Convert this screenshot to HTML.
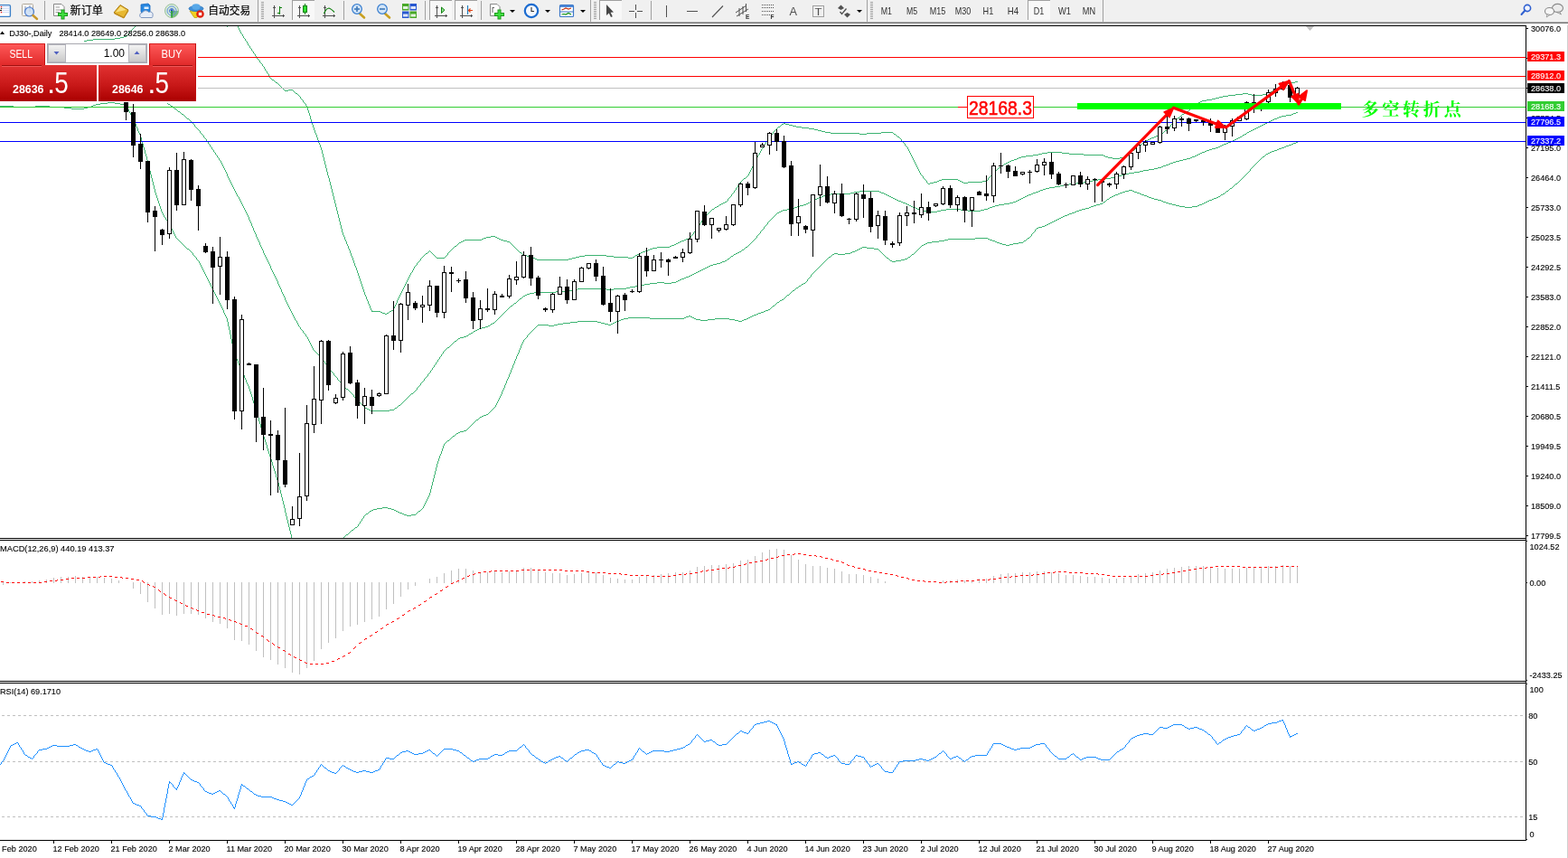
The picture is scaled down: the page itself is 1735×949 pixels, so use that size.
<!DOCTYPE html>
<html lang="zh">
<head>
<meta charset="utf-8">
<title>DJ30-,Daily</title>
<style>
html,body{margin:0;padding:0;background:#fff;}
body{width:1735px;height:949px;overflow:hidden;position:relative;font-family:'Liberation Sans','Noto Sans CJK SC',sans-serif;}
svg{display:block}
svg text{white-space:pre}
</style>
</head>
<body>
<svg width="1735" height="949" viewBox="0 0 1735 949" style="position:absolute;left:0;top:0" font-family="'Liberation Sans','Noto Sans CJK SC',sans-serif">
<defs>
<clipPath id="cm"><rect x="0" y="29" width="1688" height="566"/></clipPath>
<clipPath id="cd"><rect x="0" y="598" width="1688" height="155"/></clipPath>
<clipPath id="cr"><rect x="0" y="756" width="1688" height="173"/></clipPath>
<linearGradient id="gb" x1="0" y1="0" x2="0" y2="1"><stop offset="0" stop-color="#ff5a5a"/><stop offset="1" stop-color="#e02828"/></linearGradient>
<linearGradient id="gp" x1="0" y1="0" x2="0" y2="1"><stop offset="0" stop-color="#e23232"/><stop offset="0.55" stop-color="#c81818"/><stop offset="1" stop-color="#aa0000"/></linearGradient>
<linearGradient id="gs" x1="0" y1="0" x2="0" y2="1"><stop offset="0" stop-color="#f4f4f4"/><stop offset="1" stop-color="#c8c8c8"/></linearGradient>
</defs>
<rect x="0" y="0" width="1735" height="949" fill="#fff" />
<g clip-path="url(#cm)" shape-rendering="crispEdges">
<path d="M150 27.5h1M149 28.5h1M149 29.5h1M148 30.5h1M147 31.5h1M146 32.5h1M145 33.5h1M144 34.5h1M143 35.5h1M143 36.5h1M142 37.5h1M141 38.5h1M140 39.5h1M137 40.5h3M133 41.5h4M127 42.5h6M103 43.5h24M96 44.5h7M93 45.5h3" fill="none" stroke="#3cb371" stroke-width="1" shape-rendering="crispEdges"/>
<path d="M259 22.5h1M258 23.5h1M260 23.5h1M257 24.5h1M260 24.5h1M255 25.5h2M261 25.5h1M250 26.5h1M254 26.5h1M261 26.5h1M250 27.5h1M253 27.5h1M262 27.5h1M251 28.5h2M262 28.5h1M251 29.5h1M263 29.5h1M263 30.5h1M264 31.5h1M264 32.5h1M265 33.5h1M265 34.5h1M266 35.5h1M266 36.5h1M267 37.5h1M268 38.5h1M268 39.5h1M269 40.5h1M269 41.5h1M270 42.5h1M271 43.5h1M271 44.5h1M272 45.5h1M273 46.5h1M273 47.5h1M274 48.5h1M274 49.5h1M275 50.5h1M276 51.5h1M276 52.5h1M277 53.5h1M278 54.5h1M278 55.5h1M279 56.5h1M280 57.5h1M280 58.5h1M281 59.5h1M282 60.5h1M282 61.5h1M283 62.5h1M284 63.5h1M284 64.5h1M285 65.5h1M286 66.5h1M287 67.5h1M287 68.5h1M288 69.5h1M289 70.5h1M290 71.5h1M290 72.5h1M291 73.5h1M292 74.5h1M292 75.5h1M293 76.5h1M293 77.5h1M294 78.5h1M295 79.5h1M295 80.5h1M296 81.5h1M297 82.5h1M297 83.5h1M298 84.5h1M298 85.5h1M299 86.5h1M300 87.5h1M301 88.5h2M303 89.5h1M304 90.5h1M1433 90.5h3M305 91.5h2M1429 91.5h4M307 92.5h1M1425 92.5h4M308 93.5h1M1421 93.5h4M309 94.5h1M1419 94.5h2M310 95.5h1M1417 95.5h2M311 96.5h1M1415 96.5h2M312 97.5h1M1414 97.5h1M313 98.5h1M1412 98.5h2M314 99.5h1M319 99.5h5M1410 99.5h2M315 100.5h4M324 100.5h1M1408 100.5h2M325 101.5h1M1406 101.5h2M326 102.5h1M1404 102.5h2M327 103.5h2M1375 103.5h6M1401 103.5h3M329 104.5h1M1367 104.5h8M1381 104.5h4M1397 104.5h4M330 105.5h1M1359 105.5h8M1385 105.5h12M331 106.5h1M1353 106.5h6M332 107.5h1M1349 107.5h4M332 108.5h1M1345 108.5h4M333 109.5h1M1341 109.5h4M334 110.5h1M1335 110.5h6M335 111.5h1M1330 111.5h5M335 112.5h1M1328 112.5h2M336 113.5h1M1326 113.5h2M337 114.5h1M1324 114.5h2M338 115.5h1M1323 115.5h1M338 116.5h1M1322 116.5h1M339 117.5h1M1321 117.5h1M339 118.5h1M1319 118.5h2M340 119.5h1M1318 119.5h1M340 120.5h1M1317 120.5h1M340 121.5h1M1316 121.5h1M341 122.5h1M1315 122.5h1M341 123.5h1M1313 123.5h2M341 124.5h1M1311 124.5h2M342 125.5h1M1310 125.5h1M342 126.5h1M1308 126.5h2M342 127.5h1M1307 127.5h1M343 128.5h1M1306 128.5h1M343 129.5h1M1305 129.5h1M343 130.5h1M1303 130.5h2M343 131.5h1M1302 131.5h1M344 132.5h1M1301 132.5h1M344 133.5h1M1300 133.5h1M344 134.5h1M1299 134.5h1M345 135.5h1M1298 135.5h1M345 136.5h1M867 136.5h2M1297 136.5h1M345 137.5h1M865 137.5h2M869 137.5h4M1296 137.5h1M346 138.5h1M864 138.5h1M873 138.5h4M1295 138.5h1M346 139.5h1M863 139.5h1M877 139.5h4M1295 139.5h1M346 140.5h1M861 140.5h2M881 140.5h6M1294 140.5h1M347 141.5h1M860 141.5h1M887 141.5h8M1293 141.5h1M347 142.5h1M859 142.5h1M895 142.5h6M1292 142.5h1M347 143.5h1M858 143.5h1M901 143.5h4M1291 143.5h1M348 144.5h1M857 144.5h1M905 144.5h4M1289 144.5h2M348 145.5h1M856 145.5h1M909 145.5h4M1288 145.5h1M348 146.5h1M855 146.5h1M913 146.5h6M975 146.5h13M1287 146.5h1M349 147.5h1M855 147.5h1M919 147.5h32M959 147.5h16M988 147.5h1M1285 147.5h2M349 148.5h1M854 148.5h1M951 148.5h8M989 148.5h2M1284 148.5h1M350 149.5h1M853 149.5h1M991 149.5h1M1282 149.5h2M350 150.5h1M852 150.5h1M992 150.5h1M1279 150.5h3M350 151.5h1M851 151.5h1M993 151.5h2M1277 151.5h2M351 152.5h1M850 152.5h1M995 152.5h1M1274 152.5h3M351 153.5h1M850 153.5h1M996 153.5h1M1272 153.5h2M351 154.5h1M849 154.5h1M997 154.5h1M1270 154.5h2M352 155.5h1M849 155.5h1M997 155.5h1M1268 155.5h2M352 156.5h1M848 156.5h1M998 156.5h1M1267 156.5h1M352 157.5h1M847 157.5h1M999 157.5h1M1265 157.5h2M353 158.5h1M847 158.5h1M1000 158.5h1M1264 158.5h1M353 159.5h1M846 159.5h1M1001 159.5h1M1263 159.5h1M354 160.5h1M845 160.5h1M1001 160.5h1M1261 160.5h2M354 161.5h1M845 161.5h1M1002 161.5h1M1260 161.5h1M354 162.5h1M844 162.5h1M1003 162.5h1M1259 162.5h1M355 163.5h1M844 163.5h1M1004 163.5h1M1257 163.5h2M355 164.5h1M843 164.5h1M1004 164.5h1M1256 164.5h1M355 165.5h1M842 165.5h1M1005 165.5h1M1255 165.5h1M356 166.5h1M842 166.5h1M1005 166.5h1M1253 166.5h2M356 167.5h1M841 167.5h1M1006 167.5h1M1252 167.5h1M356 168.5h1M841 168.5h1M1006 168.5h1M1159 168.5h16M1251 168.5h1M356 169.5h1M840 169.5h1M1007 169.5h1M1153 169.5h6M1175 169.5h8M1249 169.5h2M357 170.5h1M840 170.5h1M1007 170.5h1M1149 170.5h4M1183 170.5h16M1248 170.5h1M357 171.5h1M839 171.5h1M1008 171.5h1M1143 171.5h6M1199 171.5h22M1247 171.5h1M357 172.5h1M838 172.5h1M1008 172.5h1M1135 172.5h8M1221 172.5h2M1245 172.5h2M357 173.5h1M838 173.5h1M1009 173.5h1M1130 173.5h5M1223 173.5h3M1244 173.5h1M358 174.5h1M837 174.5h1M1009 174.5h1M1127 174.5h3M1226 174.5h5M1239 174.5h5M358 175.5h1M837 175.5h1M1010 175.5h1M1125 175.5h2M1231 175.5h8M358 176.5h1M836 176.5h1M1010 176.5h1M1122 176.5h3M358 177.5h1M836 177.5h1M1011 177.5h1M1119 177.5h3M359 178.5h1M835 178.5h1M1011 178.5h1M1117 178.5h2M359 179.5h1M835 179.5h1M1012 179.5h1M1115 179.5h2M359 180.5h1M834 180.5h1M1012 180.5h1M1113 180.5h2M359 181.5h1M834 181.5h1M1013 181.5h1M1111 181.5h2M360 182.5h1M833 182.5h1M1013 182.5h1M1110 182.5h1M360 183.5h1M833 183.5h1M1014 183.5h1M1108 183.5h2M360 184.5h1M832 184.5h1M1014 184.5h1M1107 184.5h1M360 185.5h1M832 185.5h1M1015 185.5h1M1105 185.5h2M361 186.5h1M831 186.5h1M1015 186.5h1M1104 186.5h1M361 187.5h1M831 187.5h1M1016 187.5h1M1103 187.5h1M361 188.5h1M830 188.5h1M1016 188.5h1M1101 188.5h2M361 189.5h1M830 189.5h1M1017 189.5h1M1100 189.5h1M362 190.5h1M829 190.5h1M1017 190.5h1M1099 190.5h1M362 191.5h1M829 191.5h1M1018 191.5h1M1098 191.5h1M362 192.5h1M828 192.5h1M1018 192.5h1M1097 192.5h1M362 193.5h1M828 193.5h1M1019 193.5h1M1097 193.5h1M363 194.5h1M827 194.5h1M1020 194.5h1M1096 194.5h1M363 195.5h1M826 195.5h1M1021 195.5h1M1095 195.5h1M363 196.5h1M825 196.5h1M1021 196.5h1M1094 196.5h1M364 197.5h1M823 197.5h2M1022 197.5h1M1093 197.5h1M364 198.5h1M822 198.5h1M1023 198.5h1M1042 198.5h18M1093 198.5h1M364 199.5h1M821 199.5h1M1024 199.5h1M1039 199.5h3M1060 199.5h2M1092 199.5h1M364 200.5h1M820 200.5h1M1025 200.5h1M1037 200.5h2M1062 200.5h2M1087 200.5h5M365 201.5h1M819 201.5h1M1025 201.5h1M1033 201.5h4M1064 201.5h2M1071 201.5h16M365 202.5h1M818 202.5h1M1026 202.5h1M1029 202.5h4M1066 202.5h5M365 203.5h1M818 203.5h1M1027 203.5h2M365 204.5h1M817 204.5h1M366 205.5h1M816 205.5h1M366 206.5h1M816 206.5h1M366 207.5h1M815 207.5h1M366 208.5h1M814 208.5h1M367 209.5h1M814 209.5h1M367 210.5h1M813 210.5h1M367 211.5h1M812 211.5h1M367 212.5h1M812 212.5h1M368 213.5h1M811 213.5h1M368 214.5h1M810 214.5h1M368 215.5h1M809 215.5h1M368 216.5h1M809 216.5h1M369 217.5h1M808 217.5h1M369 218.5h1M807 218.5h1M369 219.5h1M806 219.5h1M369 220.5h1M805 220.5h1M370 221.5h1M805 221.5h1M370 222.5h1M804 222.5h1M370 223.5h1M802 223.5h2M370 224.5h1M800 224.5h2M371 225.5h1M798 225.5h2M371 226.5h1M796 226.5h2M371 227.5h1M795 227.5h1M371 228.5h1M793 228.5h2M372 229.5h1M791 229.5h2M372 230.5h1M790 230.5h1M372 231.5h1M788 231.5h2M372 232.5h1M787 232.5h1M373 233.5h1M786 233.5h1M373 234.5h1M785 234.5h1M373 235.5h1M784 235.5h1M373 236.5h1M783 236.5h1M374 237.5h1M782 237.5h1M374 238.5h1M781 238.5h1M374 239.5h1M780 239.5h1M374 240.5h1M779 240.5h1M375 241.5h1M778 241.5h1M375 242.5h1M778 242.5h1M375 243.5h1M777 243.5h1M375 244.5h1M776 244.5h1M376 245.5h1M776 245.5h1M376 246.5h1M775 246.5h1M376 247.5h1M774 247.5h1M376 248.5h1M774 248.5h1M377 249.5h1M773 249.5h1M377 250.5h1M772 250.5h1M377 251.5h1M772 251.5h1M377 252.5h1M771 252.5h1M378 253.5h1M770 253.5h1M378 254.5h1M770 254.5h1M378 255.5h1M769 255.5h1M378 256.5h1M768 256.5h1M379 257.5h1M767 257.5h1M379 258.5h1M767 258.5h1M379 259.5h1M766 259.5h1M380 260.5h1M765 260.5h1M380 261.5h1M543 261.5h5M764 261.5h1M381 262.5h1M538 262.5h5M548 262.5h2M764 262.5h1M381 263.5h1M535 263.5h3M550 263.5h2M762 263.5h2M381 264.5h1M533 264.5h2M552 264.5h2M759 264.5h3M382 265.5h1M514 265.5h19M554 265.5h3M757 265.5h2M382 266.5h1M512 266.5h2M557 266.5h4M754 266.5h3M383 267.5h1M510 267.5h2M561 267.5h3M752 267.5h2M383 268.5h1M508 268.5h2M564 268.5h1M750 268.5h2M383 269.5h1M507 269.5h1M565 269.5h1M748 269.5h2M384 270.5h1M506 270.5h1M566 270.5h1M746 270.5h2M384 271.5h1M505 271.5h1M567 271.5h1M743 271.5h3M385 272.5h1M503 272.5h2M568 272.5h1M741 272.5h2M385 273.5h1M502 273.5h1M569 273.5h1M727 273.5h14M385 274.5h1M501 274.5h1M570 274.5h1M722 274.5h5M386 275.5h1M500 275.5h1M571 275.5h1M719 275.5h3M386 276.5h1M499 276.5h1M572 276.5h1M717 276.5h2M387 277.5h1M475 277.5h1M498 277.5h1M573 277.5h1M714 277.5h3M387 278.5h1M474 278.5h1M476 278.5h1M497 278.5h1M574 278.5h1M711 278.5h3M387 279.5h1M473 279.5h1M477 279.5h1M496 279.5h1M575 279.5h2M709 279.5h2M388 280.5h1M471 280.5h2M478 280.5h1M495 280.5h1M577 280.5h1M707 280.5h2M388 281.5h1M470 281.5h1M479 281.5h1M495 281.5h1M578 281.5h1M705 281.5h2M388 282.5h1M469 282.5h1M480 282.5h1M494 282.5h1M579 282.5h4M647 282.5h24M703 282.5h2M389 283.5h1M468 283.5h1M481 283.5h1M493 283.5h1M583 283.5h5M641 283.5h6M671 283.5h8M702 283.5h1M389 284.5h1M467 284.5h1M482 284.5h1M492 284.5h1M588 284.5h2M637 284.5h4M679 284.5h16M700 284.5h2M390 285.5h1M466 285.5h1M483 285.5h9M590 285.5h2M633 285.5h4M695 285.5h5M390 286.5h1M465 286.5h1M592 286.5h2M629 286.5h4M390 287.5h1M465 287.5h1M594 287.5h35M391 288.5h1M464 288.5h1M391 289.5h1M463 289.5h1M391 290.5h1M462 290.5h1M392 291.5h1M461 291.5h1M392 292.5h1M461 292.5h1M392 293.5h1M460 293.5h1M393 294.5h1M459 294.5h1M393 295.5h1M458 295.5h1M394 296.5h1M458 296.5h1M394 297.5h1M457 297.5h1M394 298.5h1M457 298.5h1M395 299.5h1M456 299.5h1M395 300.5h1M456 300.5h1M395 301.5h1M455 301.5h1M396 302.5h1M454 302.5h1M396 303.5h1M454 303.5h1M396 304.5h1M453 304.5h1M397 305.5h1M453 305.5h1M397 306.5h1M452 306.5h1M397 307.5h1M452 307.5h1M398 308.5h1M451 308.5h1M398 309.5h1M451 309.5h1M398 310.5h1M450 310.5h1M399 311.5h1M450 311.5h1M399 312.5h1M449 312.5h1M399 313.5h1M449 313.5h1M400 314.5h1M448 314.5h1M400 315.5h1M448 315.5h1M400 316.5h1M447 316.5h1M401 317.5h1M447 317.5h1M401 318.5h1M446 318.5h1M401 319.5h1M446 319.5h1M402 320.5h1M445 320.5h1M402 321.5h1M445 321.5h1M402 322.5h1M444 322.5h1M403 323.5h1M444 323.5h1M403 324.5h1M443 324.5h1M403 325.5h1M443 325.5h1M404 326.5h1M442 326.5h1M404 327.5h1M442 327.5h1M405 328.5h1M441 328.5h1M405 329.5h1M441 329.5h1M405 330.5h1M440 330.5h1M406 331.5h1M440 331.5h1M406 332.5h1M439 332.5h1M407 333.5h1M439 333.5h1M407 334.5h1M439 334.5h1M407 335.5h1M438 335.5h1M408 336.5h1M438 336.5h1M408 337.5h1M437 337.5h1M409 338.5h1M437 338.5h1M409 339.5h1M436 339.5h1M409 340.5h1M436 340.5h1M410 341.5h1M435 341.5h1M410 342.5h1M435 342.5h1M411 343.5h1M433 343.5h2M411 344.5h10M431 344.5h2M421 345.5h2M430 345.5h1M423 346.5h3M428 346.5h2M426 347.5h2" fill="none" stroke="#3cb371" stroke-width="1" shape-rendering="crispEdges"/>
<path d="M185 114.5h1M186 115.5h2M188 116.5h1M189 117.5h2M191 118.5h1M192 119.5h1M193 120.5h2M195 121.5h1M196 122.5h1M197 123.5h2M199 124.5h1M1434 124.5h2M200 125.5h1M1431 125.5h3M201 126.5h2M1429 126.5h2M203 127.5h1M1423 127.5h6M204 128.5h1M1418 128.5h5M205 129.5h1M1415 129.5h3M206 130.5h1M1413 130.5h2M207 131.5h2M1410 131.5h3M209 132.5h1M1408 132.5h2M210 133.5h1M1406 133.5h2M211 134.5h1M1404 134.5h2M212 135.5h1M1402 135.5h2M213 136.5h1M1400 136.5h2M214 137.5h1M1398 137.5h2M215 138.5h1M1396 138.5h2M215 139.5h1M1394 139.5h2M216 140.5h1M1392 140.5h2M217 141.5h1M1390 141.5h2M218 142.5h1M1388 142.5h2M219 143.5h1M1386 143.5h2M220 144.5h1M1384 144.5h2M221 145.5h1M1382 145.5h2M221 146.5h1M1380 146.5h2M222 147.5h1M1379 147.5h1M223 148.5h1M1377 148.5h2M224 149.5h1M1375 149.5h2M225 150.5h1M1374 150.5h1M225 151.5h1M1372 151.5h2M226 152.5h1M1370 152.5h2M227 153.5h1M1368 153.5h2M228 154.5h1M1366 154.5h2M228 155.5h1M1364 155.5h2M229 156.5h1M1362 156.5h2M230 157.5h1M1359 157.5h3M230 158.5h1M1357 158.5h2M231 159.5h1M1354 159.5h3M232 160.5h1M1352 160.5h2M232 161.5h1M1350 161.5h2M233 162.5h1M1348 162.5h2M234 163.5h1M1345 163.5h3M234 164.5h1M1341 164.5h4M235 165.5h1M1338 165.5h3M236 166.5h1M1335 166.5h3M236 167.5h1M1333 167.5h2M237 168.5h1M1330 168.5h3M238 169.5h1M1328 169.5h2M238 170.5h1M1326 170.5h2M239 171.5h1M1324 171.5h2M240 172.5h1M1322 172.5h2M240 173.5h1M1319 173.5h3M241 174.5h1M1317 174.5h2M242 175.5h1M1313 175.5h4M242 176.5h1M1309 176.5h4M243 177.5h1M1305 177.5h4M244 178.5h1M1301 178.5h4M244 179.5h1M1298 179.5h3M245 180.5h1M1295 180.5h3M245 181.5h1M1293 181.5h2M246 182.5h1M1290 182.5h3M246 183.5h1M1287 183.5h3M247 184.5h1M1285 184.5h2M247 185.5h1M1281 185.5h4M248 186.5h1M1277 186.5h4M248 187.5h1M1271 187.5h6M249 188.5h1M1265 188.5h6M249 189.5h1M1261 189.5h4M250 190.5h1M1255 190.5h6M250 191.5h1M1249 191.5h6M251 192.5h1M1245 192.5h4M251 193.5h1M1241 193.5h4M251 194.5h1M1237 194.5h4M252 195.5h1M1233 195.5h4M252 196.5h1M1229 196.5h4M253 197.5h1M1223 197.5h6M253 198.5h1M1215 198.5h8M254 199.5h1M1209 199.5h6M254 200.5h1M1205 200.5h4M255 201.5h1M1199 201.5h6M255 202.5h1M1191 202.5h8M256 203.5h1M1183 203.5h8M256 204.5h1M1177 204.5h6M257 205.5h1M1173 205.5h4M257 206.5h1M1167 206.5h6M258 207.5h1M1161 207.5h6M258 208.5h1M1157 208.5h4M259 209.5h1M1154 209.5h3M259 210.5h1M1151 210.5h3M260 211.5h1M951 211.5h22M1149 211.5h2M260 212.5h1M945 212.5h6M973 212.5h2M1146 212.5h3M261 213.5h1M941 213.5h4M975 213.5h3M1143 213.5h3M261 214.5h1M919 214.5h22M978 214.5h2M1141 214.5h2M262 215.5h1M914 215.5h5M980 215.5h2M1138 215.5h3M262 216.5h1M911 216.5h3M982 216.5h2M1136 216.5h2M263 217.5h1M909 217.5h2M984 217.5h2M1134 217.5h2M264 218.5h1M906 218.5h3M986 218.5h2M1132 218.5h2M264 219.5h1M904 219.5h2M988 219.5h2M1130 219.5h2M265 220.5h1M902 220.5h2M990 220.5h2M1128 220.5h2M265 221.5h1M900 221.5h2M992 221.5h2M1126 221.5h2M266 222.5h1M898 222.5h2M994 222.5h3M1124 222.5h2M266 223.5h1M896 223.5h2M997 223.5h2M1121 223.5h3M267 224.5h1M894 224.5h2M999 224.5h3M1117 224.5h4M267 225.5h1M892 225.5h2M1002 225.5h2M1111 225.5h6M268 226.5h1M889 226.5h3M1004 226.5h2M1105 226.5h6M268 227.5h1M885 227.5h4M1006 227.5h2M1101 227.5h4M269 228.5h1M882 228.5h3M1008 228.5h2M1098 228.5h3M269 229.5h1M879 229.5h3M1010 229.5h3M1095 229.5h3M270 230.5h1M877 230.5h2M1013 230.5h2M1093 230.5h2M270 231.5h1M871 231.5h6M1015 231.5h3M1047 231.5h16M1089 231.5h4M271 232.5h1M866 232.5h5M1018 232.5h3M1041 232.5h6M1063 232.5h8M1085 232.5h4M271 233.5h1M864 233.5h2M1021 233.5h4M1037 233.5h4M1071 233.5h14M272 234.5h1M862 234.5h2M1025 234.5h12M272 235.5h1M860 235.5h2M273 236.5h1M859 236.5h1M273 237.5h1M858 237.5h1M274 238.5h1M857 238.5h1M274 239.5h1M856 239.5h1M275 240.5h1M855 240.5h1M275 241.5h1M854 241.5h1M275 242.5h1M853 242.5h1M276 243.5h1M852 243.5h1M276 244.5h1M851 244.5h1M277 245.5h1M850 245.5h1M277 246.5h1M849 246.5h1M278 247.5h1M849 247.5h1M278 248.5h1M848 248.5h1M278 249.5h1M847 249.5h1M279 250.5h1M846 250.5h1M279 251.5h1M845 251.5h1M280 252.5h1M845 252.5h1M280 253.5h1M844 253.5h1M280 254.5h1M843 254.5h1M281 255.5h1M842 255.5h1M281 256.5h1M841 256.5h1M282 257.5h1M841 257.5h1M282 258.5h1M840 258.5h1M283 259.5h1M839 259.5h1M283 260.5h1M838 260.5h1M283 261.5h1M837 261.5h1M284 262.5h1M837 262.5h1M284 263.5h1M836 263.5h1M285 264.5h1M835 264.5h1M285 265.5h1M834 265.5h1M286 266.5h1M833 266.5h1M286 267.5h1M832 267.5h1M287 268.5h1M831 268.5h1M287 269.5h1M830 269.5h1M287 270.5h1M829 270.5h1M288 271.5h1M828 271.5h1M288 272.5h1M827 272.5h1M289 273.5h1M825 273.5h2M289 274.5h1M824 274.5h1M290 275.5h1M823 275.5h1M290 276.5h1M821 276.5h2M291 277.5h1M820 277.5h1M291 278.5h1M818 278.5h2M291 279.5h1M816 279.5h2M292 280.5h1M814 280.5h2M292 281.5h1M812 281.5h2M293 282.5h1M811 282.5h1M293 283.5h1M809 283.5h2M294 284.5h1M808 284.5h1M294 285.5h1M807 285.5h1M295 286.5h1M805 286.5h2M295 287.5h1M804 287.5h1M296 288.5h1M802 288.5h2M296 289.5h1M799 289.5h3M297 290.5h1M797 290.5h2M297 291.5h1M793 291.5h4M298 292.5h1M789 292.5h4M298 293.5h1M786 293.5h3M299 294.5h1M784 294.5h2M299 295.5h1M782 295.5h2M299 296.5h1M780 296.5h2M300 297.5h1M778 297.5h2M300 298.5h1M776 298.5h2M301 299.5h1M774 299.5h2M301 300.5h1M772 300.5h2M302 301.5h1M770 301.5h2M302 302.5h1M768 302.5h2M303 303.5h1M766 303.5h2M303 304.5h1M764 304.5h2M304 305.5h1M762 305.5h2M304 306.5h1M759 306.5h3M305 307.5h1M757 307.5h2M305 308.5h1M754 308.5h3M306 309.5h1M752 309.5h2M306 310.5h1M750 310.5h2M307 311.5h1M748 311.5h2M307 312.5h1M727 312.5h8M743 312.5h5M307 313.5h1M719 313.5h8M735 313.5h8M308 314.5h1M713 314.5h6M308 315.5h1M709 315.5h4M309 316.5h1M703 316.5h6M309 317.5h1M697 317.5h6M310 318.5h1M693 318.5h4M310 319.5h1M639 319.5h32M679 319.5h14M311 320.5h1M633 320.5h6M671 320.5h8M311 321.5h1M629 321.5h4M311 322.5h1M615 322.5h14M312 323.5h1M591 323.5h24M312 324.5h1M586 324.5h5M313 325.5h1M583 325.5h3M313 326.5h1M581 326.5h2M314 327.5h1M579 327.5h2M314 328.5h1M578 328.5h1M315 329.5h1M577 329.5h1M315 330.5h1M575 330.5h2M315 331.5h1M574 331.5h1M316 332.5h1M573 332.5h1M316 333.5h1M572 333.5h1M317 334.5h1M571 334.5h1M317 335.5h1M569 335.5h2M318 336.5h1M568 336.5h1M318 337.5h1M567 337.5h1M319 338.5h1M565 338.5h2M319 339.5h1M564 339.5h1M320 340.5h1M563 340.5h1M320 341.5h1M562 341.5h1M321 342.5h1M561 342.5h1M321 343.5h1M560 343.5h1M322 344.5h1M559 344.5h1M322 345.5h1M558 345.5h1M323 346.5h1M557 346.5h1M323 347.5h1M556 347.5h1M324 348.5h1M555 348.5h1M324 349.5h1M554 349.5h1M325 350.5h1M553 350.5h1M325 351.5h1M552 351.5h1M326 352.5h1M551 352.5h1M326 353.5h1M550 353.5h1M327 354.5h1M549 354.5h1M328 355.5h1M548 355.5h1M328 356.5h1M547 356.5h1M329 357.5h1M545 357.5h2M329 358.5h1M543 358.5h2M330 359.5h1M542 359.5h1M330 360.5h1M540 360.5h2M331 361.5h1M537 361.5h3M332 362.5h1M533 362.5h4M332 363.5h1M530 363.5h3M333 364.5h1M528 364.5h2M334 365.5h1M526 365.5h2M335 366.5h1M524 366.5h2M335 367.5h1M523 367.5h1M336 368.5h1M521 368.5h2M337 369.5h1M519 369.5h2M338 370.5h1M518 370.5h1M338 371.5h1M516 371.5h2M339 372.5h1M513 372.5h3M340 373.5h1M509 373.5h4M340 374.5h1M507 374.5h2M341 375.5h1M506 375.5h1M341 376.5h1M505 376.5h1M342 377.5h1M503 377.5h2M342 378.5h1M502 378.5h1M343 379.5h1M501 379.5h1M343 380.5h1M500 380.5h1M344 381.5h1M499 381.5h1M344 382.5h1M498 382.5h1M345 383.5h1M497 383.5h1M345 384.5h1M495 384.5h2M346 385.5h1M494 385.5h1M346 386.5h1M493 386.5h1M347 387.5h1M492 387.5h1M348 388.5h1M491 388.5h1M349 389.5h1M490 389.5h1M350 390.5h1M490 390.5h1M351 391.5h1M489 391.5h1M352 392.5h1M488 392.5h1M353 393.5h1M488 393.5h1M354 394.5h1M487 394.5h1M355 395.5h1M486 395.5h1M356 396.5h1M486 396.5h1M356 397.5h1M485 397.5h1M357 398.5h1M484 398.5h1M358 399.5h1M484 399.5h1M359 400.5h1M483 400.5h1M359 401.5h1M482 401.5h1M360 402.5h1M482 402.5h1M361 403.5h1M481 403.5h1M362 404.5h1M480 404.5h1M362 405.5h1M480 405.5h1M363 406.5h1M479 406.5h1M364 407.5h1M478 407.5h1M365 408.5h1M478 408.5h1M365 409.5h1M477 409.5h1M366 410.5h1M476 410.5h1M367 411.5h1M476 411.5h1M368 412.5h1M475 412.5h1M369 413.5h1M474 413.5h1M369 414.5h1M473 414.5h1M370 415.5h1M473 415.5h1M371 416.5h1M472 416.5h1M372 417.5h1M471 417.5h1M373 418.5h1M470 418.5h1M373 419.5h1M469 419.5h1M374 420.5h1M469 420.5h1M375 421.5h1M468 421.5h1M376 422.5h1M467 422.5h1M377 423.5h1M466 423.5h1M377 424.5h1M465 424.5h1M378 425.5h1M465 425.5h1M379 426.5h1M464 426.5h1M380 427.5h1M463 427.5h1M381 428.5h1M462 428.5h1M382 429.5h1M461 429.5h1M383 430.5h2M461 430.5h1M385 431.5h1M460 431.5h1M386 432.5h1M459 432.5h1M387 433.5h1M458 433.5h1M388 434.5h1M457 434.5h1M389 435.5h1M455 435.5h2M390 436.5h1M454 436.5h1M391 437.5h1M453 437.5h1M391 438.5h1M452 438.5h1M392 439.5h1M451 439.5h1M393 440.5h1M450 440.5h1M394 441.5h1M449 441.5h1M395 442.5h1M448 442.5h1M396 443.5h1M447 443.5h1M397 444.5h1M446 444.5h1M398 445.5h1M445 445.5h1M399 446.5h1M444 446.5h1M400 447.5h1M443 447.5h1M401 448.5h1M441 448.5h2M402 449.5h1M440 449.5h1M403 450.5h1M439 450.5h1M404 451.5h2M437 451.5h2M406 452.5h2M436 452.5h1M408 453.5h2M431 453.5h5M410 454.5h21" fill="none" stroke="#3cb371" stroke-width="1" shape-rendering="crispEdges"/>
<path d="M119 113.5h8M111 114.5h8M127 114.5h6M106 115.5h5M133 115.5h4M103 116.5h3M137 116.5h3M-5 117.5h20M39 117.5h16M101 117.5h2M140 117.5h1M15 118.5h24M55 118.5h16M97 118.5h4M140 118.5h1M71 119.5h8M93 119.5h4M141 119.5h1M79 120.5h14M141 120.5h1M142 121.5h1M142 122.5h1M143 123.5h1M143 124.5h1M144 125.5h1M144 126.5h1M145 127.5h1M145 128.5h1M146 129.5h1M146 130.5h1M147 131.5h1M147 132.5h1M148 133.5h1M148 134.5h1M149 135.5h1M149 136.5h1M150 137.5h1M150 138.5h1M150 139.5h1M151 140.5h1M151 141.5h1M152 142.5h1M152 143.5h1M152 144.5h1M153 145.5h1M153 146.5h1M154 147.5h1M154 148.5h1M155 149.5h1M155 150.5h1M155 151.5h1M156 152.5h1M156 153.5h1M156 154.5h1M156 155.5h1M157 156.5h1M157 157.5h1M157 158.5h1M158 159.5h1M158 160.5h1M158 161.5h1M158 162.5h1M159 163.5h1M159 164.5h1M159 165.5h1M160 166.5h1M160 167.5h1M160 168.5h1M160 169.5h1M161 170.5h1M161 171.5h1M161 172.5h1M162 173.5h1M162 174.5h1M162 175.5h1M162 176.5h1M163 177.5h1M163 178.5h1M163 179.5h1M163 180.5h1M164 181.5h1M164 182.5h1M164 183.5h1M164 184.5h1M165 185.5h1M165 186.5h1M165 187.5h1M165 188.5h1M166 189.5h1M166 190.5h1M166 191.5h1M166 192.5h1M167 193.5h1M167 194.5h1M167 195.5h1M167 196.5h1M168 197.5h1M168 198.5h1M168 199.5h1M168 200.5h1M169 201.5h1M169 202.5h1M169 203.5h1M169 204.5h1M170 205.5h1M170 206.5h1M170 207.5h1M170 208.5h1M171 209.5h1M171 210.5h1M171 211.5h1M171 212.5h1M172 213.5h1M172 214.5h1M172 215.5h1M173 216.5h1M173 217.5h1M173 218.5h1M174 219.5h1M174 220.5h1M174 221.5h1M175 222.5h1M175 223.5h1M175 224.5h1M176 225.5h1M176 226.5h1M176 227.5h1M177 228.5h1M177 229.5h1M177 230.5h1M178 231.5h1M178 232.5h1M178 233.5h1M179 234.5h1M179 235.5h1M180 236.5h1M180 237.5h1M181 238.5h1M181 239.5h1M182 240.5h1M183 241.5h1M183 242.5h1M184 243.5h1M185 244.5h1M185 245.5h1M186 246.5h1M186 247.5h1M187 248.5h1M188 249.5h1M188 250.5h1M189 251.5h1M189 252.5h1M190 253.5h1M190 254.5h1M191 255.5h1M191 256.5h1M192 257.5h1M192 258.5h1M193 259.5h1M193 260.5h1M194 261.5h1M194 262.5h1M195 263.5h1M196 264.5h1M197 265.5h1M198 266.5h1M199 267.5h1M200 268.5h1M201 269.5h1M202 270.5h1M203 271.5h1M204 272.5h1M205 273.5h1M206 274.5h1M207 275.5h2M209 276.5h1M210 277.5h1M211 278.5h1M212 279.5h1M213 280.5h1M213 281.5h1M214 282.5h1M215 283.5h1M216 284.5h1M217 285.5h1M217 286.5h1M218 287.5h1M219 288.5h1M220 289.5h1M220 290.5h1M221 291.5h1M221 292.5h1M222 293.5h1M222 294.5h1M223 295.5h1M223 296.5h1M224 297.5h1M224 298.5h1M225 299.5h1M225 300.5h1M226 301.5h1M226 302.5h1M227 303.5h1M227 304.5h1M228 305.5h1M228 306.5h1M229 307.5h1M229 308.5h1M230 309.5h1M230 310.5h1M231 311.5h1M231 312.5h1M232 313.5h1M232 314.5h1M233 315.5h1M233 316.5h1M234 317.5h1M234 318.5h1M235 319.5h1M235 320.5h1M236 321.5h1M236 322.5h1M237 323.5h1M237 324.5h1M238 325.5h1M238 326.5h1M239 327.5h1M239 328.5h1M240 329.5h1M240 330.5h1M241 331.5h1M241 332.5h1M242 333.5h1M242 334.5h1M243 335.5h1M243 336.5h1M244 337.5h1M244 338.5h1M245 339.5h1M245 340.5h1M246 341.5h1M246 342.5h1M247 343.5h1M247 344.5h1M247 345.5h1M248 346.5h1M248 347.5h1M249 348.5h1M249 349.5h1M250 350.5h1M250 351.5h1M251 352.5h1M251 353.5h1M251 354.5h1M251 355.5h1M252 356.5h1M252 357.5h1M252 358.5h1M252 359.5h1M252 360.5h1M253 361.5h1M253 362.5h1M253 363.5h1M253 364.5h1M254 365.5h1M254 366.5h1M254 367.5h1M254 368.5h1M254 369.5h1M255 370.5h1M255 371.5h1M255 372.5h1M255 373.5h1M255 374.5h1M256 375.5h1M256 376.5h1M256 377.5h1M256 378.5h1M256 379.5h1M257 380.5h1M257 381.5h1M257 382.5h1M257 383.5h1M258 384.5h1M258 385.5h1M258 386.5h1M258 387.5h1M258 388.5h1M259 389.5h1M259 390.5h1M259 391.5h1M259 392.5h1M260 393.5h1M260 394.5h1M261 395.5h1M261 396.5h1M262 397.5h1M262 398.5h1M263 399.5h1M263 400.5h1M263 401.5h1M264 402.5h1M264 403.5h1M265 404.5h1M265 405.5h1M266 406.5h1M266 407.5h1M267 408.5h1M267 409.5h1M267 410.5h1M268 411.5h1M268 412.5h1M269 413.5h1M269 414.5h1M270 415.5h1M270 416.5h1M270 417.5h1M271 418.5h1M271 419.5h1M272 420.5h1M272 421.5h1M272 422.5h1M273 423.5h1M273 424.5h1M274 425.5h1M274 426.5h1M275 427.5h1M275 428.5h1M275 429.5h1M276 430.5h1M276 431.5h1M276 432.5h1M277 433.5h1M277 434.5h1M277 435.5h1M278 436.5h1M278 437.5h1M278 438.5h1M279 439.5h1M279 440.5h1M279 441.5h1M279 442.5h1M280 443.5h1M280 444.5h1M280 445.5h1M281 446.5h1M281 447.5h1M281 448.5h1M282 449.5h1M282 450.5h1M282 451.5h1M283 452.5h1M283 453.5h1M283 454.5h1M284 455.5h1M284 456.5h1M284 457.5h1M284 458.5h1M285 459.5h1M285 460.5h1M285 461.5h1M286 462.5h1M286 463.5h1M286 464.5h1M286 465.5h1M287 466.5h1M287 467.5h1M287 468.5h1M288 469.5h1M288 470.5h1M288 471.5h1M288 472.5h1M289 473.5h1M289 474.5h1M289 475.5h1M290 476.5h1M290 477.5h1M290 478.5h1M290 479.5h1M291 480.5h1M291 481.5h1M291 482.5h1M292 483.5h1M292 484.5h1M292 485.5h1M293 486.5h1M293 487.5h1M293 488.5h1M294 489.5h1M294 490.5h1M294 491.5h1M295 492.5h1M295 493.5h1M295 494.5h1M295 495.5h1M296 496.5h1M296 497.5h1M296 498.5h1M297 499.5h1M297 500.5h1M297 501.5h1M298 502.5h1M298 503.5h1M298 504.5h1M299 505.5h1M299 506.5h1M299 507.5h1M300 508.5h1M300 509.5h1M300 510.5h1M301 511.5h1M301 512.5h1M301 513.5h1M301 514.5h1M302 515.5h1M302 516.5h1M302 517.5h1M303 518.5h1M303 519.5h1M303 520.5h1M304 521.5h1M304 522.5h1M304 523.5h1M305 524.5h1M305 525.5h1M305 526.5h1M305 527.5h1M306 528.5h1M306 529.5h1M306 530.5h1M307 531.5h1M307 532.5h1M307 533.5h1M308 534.5h1M308 535.5h1M308 536.5h1M308 537.5h1M309 538.5h1M309 539.5h1M309 540.5h1M309 541.5h1M310 542.5h1M310 543.5h1M310 544.5h1M310 545.5h1M311 546.5h1M311 547.5h1M311 548.5h1M311 549.5h1M312 550.5h1M312 551.5h1M312 552.5h1M312 553.5h1M313 554.5h1M313 555.5h1M313 556.5h1M313 557.5h1M314 558.5h1M314 559.5h1M314 560.5h1M314 561.5h1M315 562.5h1M315 563.5h1M315 564.5h1M315 565.5h1M315 566.5h1M316 567.5h1M316 568.5h1M316 569.5h1M316 570.5h1M317 571.5h1M317 572.5h1M317 573.5h1M317 574.5h1M318 575.5h1M318 576.5h1M318 577.5h1M318 578.5h1M319 579.5h1M319 580.5h1M319 581.5h1M319 582.5h1M320 583.5h1M320 584.5h1M320 585.5h1M320 586.5h1M321 587.5h1M321 588.5h1M321 589.5h1M321 590.5h1M322 591.5h1M322 592.5h1M322 593.5h1M322 594.5h1M323 595.5h1M323 596.5h1M323 597.5h1M323 598.5h1M324 599.5h1M324 600.5h1" fill="none" stroke="#3cb371" stroke-width="1" shape-rendering="crispEdges"/>
<path d="M1434 157.5h2M1431 158.5h3M1429 159.5h2M1426 160.5h3M1423 161.5h3M1421 162.5h2M1418 163.5h3M1415 164.5h3M1413 165.5h2M1410 166.5h3M1407 167.5h3M1405 168.5h2M1403 169.5h2M1401 170.5h2M1400 171.5h1M1399 172.5h1M1397 173.5h2M1396 174.5h1M1395 175.5h1M1394 176.5h1M1393 177.5h1M1392 178.5h1M1391 179.5h1M1390 180.5h1M1389 181.5h1M1388 182.5h1M1387 183.5h1M1386 184.5h1M1385 185.5h1M1384 186.5h1M1383 187.5h1M1383 188.5h1M1382 189.5h1M1381 190.5h1M1380 191.5h1M1379 192.5h1M1378 193.5h1M1377 194.5h1M1376 195.5h1M1375 196.5h1M1374 197.5h1M1373 198.5h1M1372 199.5h1M1371 200.5h1M1370 201.5h1M1369 202.5h1M1367 203.5h2M1366 204.5h1M1365 205.5h1M1364 206.5h1M1363 207.5h1M1361 208.5h2M1360 209.5h1M1249 210.5h4M1359 210.5h1M1245 211.5h4M1253 211.5h2M1357 211.5h2M1242 212.5h3M1255 212.5h3M1356 212.5h1M1239 213.5h3M1258 213.5h3M1355 213.5h1M1237 214.5h2M1261 214.5h2M1353 214.5h2M1234 215.5h3M1263 215.5h3M1351 215.5h2M1232 216.5h2M1266 216.5h3M1350 216.5h1M1230 217.5h2M1269 217.5h2M1348 217.5h2M1228 218.5h2M1271 218.5h3M1346 218.5h2M1227 219.5h1M1274 219.5h3M1343 219.5h3M1225 220.5h2M1277 220.5h4M1341 220.5h2M1224 221.5h1M1281 221.5h4M1338 221.5h3M1223 222.5h1M1285 222.5h2M1336 222.5h2M1221 223.5h2M1287 223.5h3M1334 223.5h2M1220 224.5h1M1290 224.5h3M1332 224.5h2M1217 225.5h3M1293 225.5h4M1330 225.5h2M1213 226.5h4M1297 226.5h4M1327 226.5h3M1210 227.5h3M1301 227.5h4M1325 227.5h2M1207 228.5h3M1305 228.5h6M1319 228.5h6M1205 229.5h2M1311 229.5h8M1201 230.5h4M1197 231.5h4M1194 232.5h3M1191 233.5h3M1189 234.5h2M1186 235.5h3M1183 236.5h3M1181 237.5h2M1178 238.5h3M1176 239.5h2M1174 240.5h2M1172 241.5h2M1170 242.5h2M1168 243.5h2M1166 244.5h2M1164 245.5h2M1162 246.5h2M1160 247.5h2M1158 248.5h2M1156 249.5h2M1153 250.5h3M1149 251.5h4M1147 252.5h2M1146 253.5h1M1145 254.5h1M1145 255.5h1M1144 256.5h1M1143 257.5h1M1142 258.5h1M1141 259.5h1M1141 260.5h1M1140 261.5h1M1139 262.5h1M1079 263.5h14M1137 263.5h2M1049 264.5h30M1093 264.5h2M1136 264.5h1M1045 265.5h4M1095 265.5h3M1135 265.5h1M1039 266.5h6M1098 266.5h3M1133 266.5h2M1031 267.5h8M1101 267.5h2M1132 267.5h1M1026 268.5h5M1103 268.5h3M1127 268.5h5M1024 269.5h2M1106 269.5h3M1121 269.5h6M1022 270.5h2M1109 270.5h4M1117 270.5h4M1020 271.5h2M1113 271.5h4M1019 272.5h1M954 273.5h5M1018 273.5h1M952 274.5h2M959 274.5h8M1017 274.5h1M950 275.5h2M967 275.5h5M1016 275.5h1M948 276.5h2M972 276.5h1M1015 276.5h1M946 277.5h2M973 277.5h1M1014 277.5h1M943 278.5h3M974 278.5h1M1013 278.5h1M941 279.5h2M975 279.5h1M1012 279.5h1M923 280.5h4M935 280.5h6M976 280.5h1M1011 280.5h1M921 281.5h2M927 281.5h8M977 281.5h1M1009 281.5h2M920 282.5h1M978 282.5h1M1008 282.5h1M919 283.5h1M979 283.5h1M1007 283.5h1M917 284.5h2M980 284.5h1M1005 284.5h2M916 285.5h1M981 285.5h2M1004 285.5h1M915 286.5h1M983 286.5h1M1001 286.5h3M914 287.5h1M984 287.5h1M997 287.5h4M913 288.5h1M985 288.5h2M991 288.5h6M912 289.5h1M987 289.5h4M911 290.5h1M910 291.5h1M909 292.5h1M908 293.5h1M907 294.5h1M906 295.5h1M905 296.5h1M904 297.5h1M903 298.5h1M902 299.5h1M901 300.5h1M900 301.5h1M899 302.5h1M898 303.5h1M897 304.5h1M897 305.5h1M896 306.5h1M895 307.5h1M894 308.5h1M893 309.5h1M893 310.5h1M892 311.5h1M891 312.5h1M889 313.5h2M887 314.5h2M886 315.5h1M884 316.5h2M883 317.5h1M881 318.5h2M880 319.5h1M879 320.5h1M877 321.5h2M876 322.5h1M875 323.5h1M874 324.5h1M873 325.5h1M871 326.5h2M870 327.5h1M869 328.5h1M868 329.5h1M867 330.5h1M865 331.5h2M863 332.5h2M862 333.5h1M860 334.5h2M859 335.5h1M858 336.5h1M857 337.5h1M855 338.5h2M854 339.5h1M853 340.5h1M852 341.5h1M850 342.5h2M847 343.5h3M845 344.5h2M842 345.5h3M839 346.5h3M837 347.5h2M834 348.5h3M762 349.5h2M832 349.5h2M759 350.5h3M764 350.5h2M830 350.5h2M695 351.5h24M757 351.5h2M766 351.5h2M828 351.5h2M690 352.5h5M719 352.5h38M768 352.5h2M791 352.5h16M826 352.5h2M687 353.5h3M770 353.5h5M783 353.5h8M807 353.5h6M823 353.5h3M685 354.5h2M775 354.5h8M813 354.5h4M821 354.5h2M639 355.5h22M682 355.5h3M817 355.5h4M631 356.5h8M661 356.5h4M680 356.5h2M623 357.5h8M665 357.5h4M678 357.5h2M617 358.5h6M669 358.5h4M676 358.5h2M595 359.5h12M613 359.5h4M673 359.5h3M594 360.5h1M607 360.5h6M593 361.5h1M592 362.5h1M591 363.5h1M590 364.5h1M589 365.5h1M588 366.5h1M587 367.5h1M586 368.5h1M585 369.5h1M584 370.5h1M583 371.5h1M583 372.5h1M582 373.5h1M581 374.5h1M580 375.5h1M579 376.5h1M579 377.5h1M578 378.5h1M578 379.5h1M577 380.5h1M577 381.5h1M576 382.5h1M576 383.5h1M576 384.5h1M575 385.5h1M575 386.5h1M574 387.5h1M574 388.5h1M574 389.5h1M573 390.5h1M573 391.5h1M572 392.5h1M572 393.5h1M571 394.5h1M571 395.5h1M571 396.5h1M570 397.5h1M570 398.5h1M569 399.5h1M569 400.5h1M569 401.5h1M568 402.5h1M568 403.5h1M567 404.5h1M567 405.5h1M567 406.5h1M566 407.5h1M566 408.5h1M565 409.5h1M565 410.5h1M565 411.5h1M564 412.5h1M564 413.5h1M563 414.5h1M563 415.5h1M563 416.5h1M562 417.5h1M562 418.5h1M561 419.5h1M561 420.5h1M560 421.5h1M560 422.5h1M560 423.5h1M559 424.5h1M559 425.5h1M558 426.5h1M558 427.5h1M558 428.5h1M557 429.5h1M557 430.5h1M556 431.5h1M556 432.5h1M555 433.5h1M555 434.5h1M555 435.5h1M554 436.5h1M554 437.5h1M553 438.5h1M553 439.5h1M552 440.5h1M552 441.5h1M551 442.5h1M551 443.5h1M550 444.5h1M550 445.5h1M549 446.5h1M549 447.5h1M548 448.5h1M548 449.5h1M547 450.5h1M546 451.5h1M545 452.5h1M544 453.5h1M543 454.5h1M542 455.5h1M541 456.5h1M540 457.5h1M538 458.5h2M535 459.5h3M533 460.5h2M531 461.5h2M530 462.5h1M529 463.5h1M527 464.5h2M526 465.5h1M525 466.5h1M524 467.5h1M523 468.5h1M522 469.5h1M521 470.5h1M520 471.5h1M519 472.5h1M518 473.5h1M517 474.5h1M516 475.5h1M513 476.5h3M509 477.5h4M507 478.5h2M505 479.5h2M504 480.5h1M503 481.5h1M501 482.5h2M500 483.5h1M499 484.5h1M498 485.5h1M497 486.5h1M495 487.5h2M494 488.5h1M493 489.5h1M492 490.5h1M491 491.5h1M491 492.5h1M490 493.5h1M490 494.5h1M490 495.5h1M489 496.5h1M489 497.5h1M489 498.5h1M488 499.5h1M488 500.5h1M488 501.5h1M487 502.5h1M487 503.5h1M486 504.5h1M486 505.5h1M486 506.5h1M485 507.5h1M485 508.5h1M485 509.5h1M484 510.5h1M484 511.5h1M484 512.5h1M483 513.5h1M483 514.5h1M483 515.5h1M483 516.5h1M482 517.5h1M482 518.5h1M482 519.5h1M482 520.5h1M481 521.5h1M481 522.5h1M481 523.5h1M481 524.5h1M480 525.5h1M480 526.5h1M480 527.5h1M480 528.5h1M479 529.5h1M479 530.5h1M479 531.5h1M479 532.5h1M478 533.5h1M478 534.5h1M478 535.5h1M478 536.5h1M477 537.5h1M477 538.5h1M477 539.5h1M477 540.5h1M476 541.5h1M476 542.5h1M476 543.5h1M476 544.5h1M475 545.5h1M475 546.5h1M475 547.5h1M474 548.5h1M474 549.5h1M473 550.5h1M473 551.5h1M472 552.5h1M472 553.5h1M471 554.5h1M471 555.5h1M470 556.5h1M470 557.5h1M469 558.5h1M469 559.5h1M468 560.5h1M423 561.5h6M468 561.5h1M417 562.5h6M429 562.5h4M467 562.5h1M413 563.5h4M433 563.5h3M466 563.5h1M411 564.5h2M436 564.5h2M465 564.5h1M409 565.5h2M438 565.5h2M463 565.5h2M408 566.5h1M440 566.5h2M462 566.5h1M407 567.5h1M442 567.5h3M461 567.5h1M405 568.5h2M445 568.5h2M460 568.5h1M404 569.5h1M447 569.5h3M455 569.5h5M403 570.5h1M450 570.5h5M402 571.5h1M402 572.5h1M401 573.5h1M400 574.5h1M400 575.5h1M399 576.5h1M398 577.5h1M398 578.5h1M397 579.5h1M396 580.5h1M396 581.5h1M395 582.5h1M393 583.5h2M392 584.5h1M391 585.5h1M389 586.5h2M388 587.5h1M387 588.5h1M386 589.5h1M385 590.5h1M383 591.5h2M382 592.5h1M381 593.5h1M380 594.5h1M379 595.5h1M379 596.5h1M379 597.5h1M378 598.5h1M378 599.5h1M378 600.5h1" fill="none" stroke="#3cb371" stroke-width="1" shape-rendering="crispEdges"/>
<rect x="0" y="63" width="1688" height="1" fill="#ff0000"/>
<rect x="0" y="84" width="1688" height="1" fill="#ff0000"/>
<rect x="0" y="97" width="1688" height="1" fill="#c0c0c0"/>
<rect x="0" y="118" width="1688" height="1" fill="#32cd32"/>
<rect x="0" y="135" width="1688" height="1" fill="#0000ff"/>
<rect x="0" y="156" width="1688" height="1" fill="#0000ff"/>
<rect x="139" y="100" width="1" height="33" fill="#000"/>
<rect x="137" y="100" width="5" height="24" fill="#000" />
<rect x="147" y="115" width="1" height="59" fill="#000"/>
<rect x="145" y="124" width="5" height="37" fill="#000" />
<rect x="155" y="148" width="1" height="39" fill="#000"/>
<rect x="153" y="159" width="5" height="20" fill="#000" />
<rect x="163" y="178" width="1" height="68" fill="#000"/>
<rect x="161" y="178" width="5" height="57" fill="#000" />
<rect x="171" y="228" width="1" height="50" fill="#000"/>
<rect x="169" y="233" width="5" height="7" fill="#000" />
<rect x="179" y="253" width="1" height="18" fill="#000"/>
<rect x="177" y="254" width="5" height="6" fill="#000" />
<rect x="187" y="185" width="1" height="79" fill="#000"/>
<rect x="185" y="188" width="5" height="71" fill="#000" />
<rect x="186" y="189" width="3" height="69" fill="#fff" />
<rect x="195" y="169" width="1" height="64" fill="#000"/>
<rect x="193" y="188" width="5" height="39" fill="#000" />
<rect x="203" y="168" width="1" height="59" fill="#000"/>
<rect x="201" y="176" width="5" height="51" fill="#000" />
<rect x="202" y="177" width="3" height="49" fill="#fff" />
<rect x="211" y="176" width="1" height="46" fill="#000"/>
<rect x="209" y="177" width="5" height="33" fill="#000" />
<rect x="219" y="205" width="1" height="50" fill="#000"/>
<rect x="217" y="209" width="5" height="19" fill="#000" />
<rect x="227" y="269" width="1" height="11" fill="#000"/>
<rect x="225" y="272" width="5" height="7" fill="#000" />
<rect x="235" y="273" width="1" height="63" fill="#000"/>
<rect x="233" y="278" width="5" height="18" fill="#000" />
<rect x="243" y="262" width="1" height="64" fill="#000"/>
<rect x="241" y="284" width="5" height="11" fill="#000" />
<rect x="242" y="285" width="3" height="9" fill="#fff" />
<rect x="251" y="278" width="1" height="64" fill="#000"/>
<rect x="249" y="284" width="5" height="48" fill="#000" />
<rect x="259" y="328" width="1" height="136" fill="#000"/>
<rect x="257" y="331" width="5" height="124" fill="#000" />
<rect x="267" y="348" width="1" height="127" fill="#000"/>
<rect x="265" y="353" width="5" height="102" fill="#000" />
<rect x="266" y="354" width="3" height="100" fill="#fff" />
<rect x="275" y="401" width="1" height="3" fill="#000"/>
<rect x="273" y="402" width="5" height="2" fill="#000" />
<rect x="283" y="403" width="1" height="86" fill="#000"/>
<rect x="281" y="403" width="5" height="59" fill="#000" />
<rect x="291" y="429" width="1" height="69" fill="#000"/>
<rect x="289" y="461" width="5" height="20" fill="#000" />
<rect x="299" y="465" width="1" height="83" fill="#000"/>
<rect x="297" y="480" width="5" height="2" fill="#000" />
<rect x="307" y="476" width="1" height="69" fill="#000"/>
<rect x="305" y="481" width="5" height="28" fill="#000" />
<rect x="315" y="451" width="1" height="88" fill="#000"/>
<rect x="313" y="509" width="5" height="27" fill="#000" />
<rect x="323" y="560" width="1" height="21" fill="#000"/>
<rect x="321" y="574" width="5" height="7" fill="#000" />
<rect x="322" y="575" width="3" height="5" fill="#fff" />
<rect x="331" y="501" width="1" height="81" fill="#000"/>
<rect x="329" y="549" width="5" height="25" fill="#000" />
<rect x="330" y="550" width="3" height="23" fill="#fff" />
<rect x="339" y="448" width="1" height="106" fill="#000"/>
<rect x="337" y="468" width="5" height="81" fill="#000" />
<rect x="338" y="469" width="3" height="79" fill="#fff" />
<rect x="347" y="405" width="1" height="74" fill="#000"/>
<rect x="345" y="441" width="5" height="29" fill="#000" />
<rect x="346" y="442" width="3" height="27" fill="#fff" />
<rect x="355" y="376" width="1" height="93" fill="#000"/>
<rect x="353" y="377" width="5" height="66" fill="#000" />
<rect x="354" y="378" width="3" height="64" fill="#fff" />
<rect x="363" y="376" width="1" height="56" fill="#000"/>
<rect x="361" y="377" width="5" height="49" fill="#000" />
<rect x="371" y="436" width="1" height="11" fill="#000"/>
<rect x="369" y="440" width="5" height="6" fill="#000" />
<rect x="370" y="441" width="3" height="4" fill="#fff" />
<rect x="379" y="389" width="1" height="54" fill="#000"/>
<rect x="377" y="391" width="5" height="49" fill="#000" />
<rect x="378" y="392" width="3" height="47" fill="#fff" />
<rect x="387" y="383" width="1" height="42" fill="#000"/>
<rect x="385" y="390" width="5" height="34" fill="#000" />
<rect x="395" y="420" width="1" height="43" fill="#000"/>
<rect x="393" y="423" width="5" height="26" fill="#000" />
<rect x="403" y="429" width="1" height="40" fill="#000"/>
<rect x="401" y="438" width="5" height="11" fill="#000" />
<rect x="402" y="439" width="3" height="9" fill="#fff" />
<rect x="411" y="431" width="1" height="27" fill="#000"/>
<rect x="409" y="439" width="5" height="10" fill="#000" />
<rect x="419" y="434" width="1" height="5" fill="#000"/>
<rect x="417" y="435" width="5" height="3" fill="#000" />
<rect x="418" y="436" width="3" height="1" fill="#fff" />
<rect x="427" y="370" width="1" height="66" fill="#000"/>
<rect x="425" y="371" width="5" height="65" fill="#000" />
<rect x="426" y="372" width="3" height="63" fill="#fff" />
<rect x="435" y="333" width="1" height="54" fill="#000"/>
<rect x="433" y="371" width="5" height="6" fill="#000" />
<rect x="443" y="335" width="1" height="55" fill="#000"/>
<rect x="441" y="336" width="5" height="41" fill="#000" />
<rect x="442" y="337" width="3" height="39" fill="#fff" />
<rect x="451" y="314" width="1" height="40" fill="#000"/>
<rect x="449" y="323" width="5" height="15" fill="#000" />
<rect x="450" y="324" width="3" height="13" fill="#fff" />
<rect x="459" y="333" width="1" height="10" fill="#000"/>
<rect x="457" y="335" width="5" height="6" fill="#000" />
<rect x="467" y="327" width="1" height="30" fill="#000"/>
<rect x="465" y="337" width="5" height="3" fill="#000" />
<rect x="466" y="338" width="3" height="1" fill="#fff" />
<rect x="475" y="310" width="1" height="34" fill="#000"/>
<rect x="473" y="316" width="5" height="22" fill="#000" />
<rect x="474" y="317" width="3" height="20" fill="#fff" />
<rect x="483" y="316" width="1" height="35" fill="#000"/>
<rect x="481" y="316" width="5" height="30" fill="#000" />
<rect x="491" y="294" width="1" height="58" fill="#000"/>
<rect x="489" y="301" width="5" height="45" fill="#000" />
<rect x="490" y="302" width="3" height="43" fill="#fff" />
<rect x="499" y="295" width="1" height="28" fill="#000"/>
<rect x="497" y="301" width="5" height="2" fill="#000" />
<rect x="507" y="308" width="1" height="5" fill="#000"/>
<rect x="505" y="310" width="5" height="1" fill="#000" />
<rect x="515" y="300" width="1" height="35" fill="#000"/>
<rect x="513" y="309" width="5" height="21" fill="#000" />
<rect x="523" y="323" width="1" height="41" fill="#000"/>
<rect x="521" y="329" width="5" height="26" fill="#000" />
<rect x="531" y="332" width="1" height="32" fill="#000"/>
<rect x="529" y="341" width="5" height="13" fill="#000" />
<rect x="530" y="342" width="3" height="11" fill="#fff" />
<rect x="539" y="319" width="1" height="26" fill="#000"/>
<rect x="537" y="341" width="5" height="2" fill="#000" />
<rect x="547" y="322" width="1" height="26" fill="#000"/>
<rect x="545" y="325" width="5" height="18" fill="#000" />
<rect x="546" y="326" width="3" height="16" fill="#fff" />
<rect x="555" y="325" width="1" height="4" fill="#000"/>
<rect x="553" y="327" width="5" height="2" fill="#000" />
<rect x="563" y="304" width="1" height="26" fill="#000"/>
<rect x="561" y="308" width="5" height="20" fill="#000" />
<rect x="562" y="309" width="3" height="18" fill="#fff" />
<rect x="571" y="289" width="1" height="26" fill="#000"/>
<rect x="569" y="306" width="5" height="4" fill="#000" />
<rect x="570" y="307" width="3" height="2" fill="#fff" />
<rect x="579" y="278" width="1" height="30" fill="#000"/>
<rect x="577" y="282" width="5" height="25" fill="#000" />
<rect x="578" y="283" width="3" height="23" fill="#fff" />
<rect x="587" y="273" width="1" height="43" fill="#000"/>
<rect x="585" y="282" width="5" height="26" fill="#000" />
<rect x="595" y="305" width="1" height="26" fill="#000"/>
<rect x="593" y="307" width="5" height="20" fill="#000" />
<rect x="603" y="340" width="1" height="5" fill="#000"/>
<rect x="601" y="341" width="5" height="2" fill="#000" />
<rect x="611" y="324" width="1" height="22" fill="#000"/>
<rect x="609" y="325" width="5" height="18" fill="#000" />
<rect x="610" y="326" width="3" height="16" fill="#fff" />
<rect x="619" y="306" width="1" height="20" fill="#000"/>
<rect x="617" y="317" width="5" height="9" fill="#000" />
<rect x="618" y="318" width="3" height="7" fill="#fff" />
<rect x="627" y="309" width="1" height="27" fill="#000"/>
<rect x="625" y="317" width="5" height="15" fill="#000" />
<rect x="635" y="309" width="1" height="23" fill="#000"/>
<rect x="633" y="311" width="5" height="21" fill="#000" />
<rect x="634" y="312" width="3" height="19" fill="#fff" />
<rect x="643" y="295" width="1" height="17" fill="#000"/>
<rect x="641" y="296" width="5" height="16" fill="#000" />
<rect x="642" y="297" width="3" height="14" fill="#fff" />
<rect x="651" y="291" width="1" height="7" fill="#000"/>
<rect x="649" y="291" width="5" height="6" fill="#000" />
<rect x="650" y="292" width="3" height="4" fill="#fff" />
<rect x="659" y="287" width="1" height="24" fill="#000"/>
<rect x="657" y="291" width="5" height="15" fill="#000" />
<rect x="667" y="295" width="1" height="43" fill="#000"/>
<rect x="665" y="305" width="5" height="32" fill="#000" />
<rect x="675" y="319" width="1" height="37" fill="#000"/>
<rect x="673" y="335" width="5" height="10" fill="#000" />
<rect x="683" y="326" width="1" height="43" fill="#000"/>
<rect x="681" y="327" width="5" height="18" fill="#000" />
<rect x="682" y="328" width="3" height="16" fill="#fff" />
<rect x="691" y="324" width="1" height="20" fill="#000"/>
<rect x="689" y="326" width="5" height="6" fill="#000" />
<rect x="699" y="320" width="1" height="4" fill="#000"/>
<rect x="697" y="322" width="5" height="1" fill="#000" />
<rect x="707" y="280" width="1" height="44" fill="#000"/>
<rect x="705" y="283" width="5" height="40" fill="#000" />
<rect x="706" y="284" width="3" height="38" fill="#fff" />
<rect x="715" y="274" width="1" height="32" fill="#000"/>
<rect x="713" y="283" width="5" height="17" fill="#000" />
<rect x="723" y="282" width="1" height="18" fill="#000"/>
<rect x="721" y="287" width="5" height="13" fill="#000" />
<rect x="722" y="288" width="3" height="11" fill="#fff" />
<rect x="731" y="279" width="1" height="17" fill="#000"/>
<rect x="729" y="287" width="5" height="1" fill="#000" />
<rect x="739" y="286" width="1" height="19" fill="#000"/>
<rect x="737" y="287" width="5" height="3" fill="#000" />
<rect x="747" y="283" width="1" height="3" fill="#000"/>
<rect x="745" y="284" width="5" height="2" fill="#000" />
<rect x="755" y="275" width="1" height="15" fill="#000"/>
<rect x="753" y="279" width="5" height="6" fill="#000" />
<rect x="754" y="280" width="3" height="4" fill="#fff" />
<rect x="763" y="257" width="1" height="24" fill="#000"/>
<rect x="761" y="264" width="5" height="16" fill="#000" />
<rect x="762" y="265" width="3" height="14" fill="#fff" />
<rect x="771" y="233" width="1" height="35" fill="#000"/>
<rect x="769" y="233" width="5" height="32" fill="#000" />
<rect x="770" y="234" width="3" height="30" fill="#fff" />
<rect x="779" y="227" width="1" height="23" fill="#000"/>
<rect x="777" y="234" width="5" height="15" fill="#000" />
<rect x="787" y="241" width="1" height="23" fill="#000"/>
<rect x="785" y="241" width="5" height="8" fill="#000" />
<rect x="786" y="242" width="3" height="6" fill="#fff" />
<rect x="795" y="252" width="1" height="5" fill="#000"/>
<rect x="793" y="252" width="5" height="3" fill="#000" />
<rect x="794" y="253" width="3" height="1" fill="#fff" />
<rect x="803" y="239" width="1" height="16" fill="#000"/>
<rect x="801" y="248" width="5" height="6" fill="#000" />
<rect x="802" y="249" width="3" height="4" fill="#fff" />
<rect x="811" y="226" width="1" height="24" fill="#000"/>
<rect x="809" y="226" width="5" height="23" fill="#000" />
<rect x="810" y="227" width="3" height="21" fill="#fff" />
<rect x="819" y="202" width="1" height="27" fill="#000"/>
<rect x="817" y="203" width="5" height="24" fill="#000" />
<rect x="818" y="204" width="3" height="22" fill="#fff" />
<rect x="827" y="201" width="1" height="15" fill="#000"/>
<rect x="825" y="203" width="5" height="5" fill="#000" />
<rect x="835" y="157" width="1" height="52" fill="#000"/>
<rect x="833" y="169" width="5" height="39" fill="#000" />
<rect x="834" y="170" width="3" height="37" fill="#fff" />
<rect x="843" y="158" width="1" height="5" fill="#000"/>
<rect x="841" y="160" width="5" height="3" fill="#000" />
<rect x="842" y="161" width="3" height="1" fill="#fff" />
<rect x="851" y="146" width="1" height="25" fill="#000"/>
<rect x="849" y="147" width="5" height="14" fill="#000" />
<rect x="850" y="148" width="3" height="12" fill="#fff" />
<rect x="859" y="143" width="1" height="24" fill="#000"/>
<rect x="857" y="147" width="5" height="10" fill="#000" />
<rect x="867" y="150" width="1" height="36" fill="#000"/>
<rect x="865" y="156" width="5" height="29" fill="#000" />
<rect x="875" y="178" width="1" height="83" fill="#000"/>
<rect x="873" y="183" width="5" height="65" fill="#000" />
<rect x="883" y="220" width="1" height="41" fill="#000"/>
<rect x="881" y="239" width="5" height="8" fill="#000" />
<rect x="882" y="240" width="3" height="6" fill="#fff" />
<rect x="891" y="249" width="1" height="9" fill="#000"/>
<rect x="889" y="250" width="5" height="4" fill="#000" />
<rect x="899" y="215" width="1" height="69" fill="#000"/>
<rect x="897" y="215" width="5" height="40" fill="#000" />
<rect x="898" y="216" width="3" height="38" fill="#fff" />
<rect x="907" y="182" width="1" height="46" fill="#000"/>
<rect x="905" y="206" width="5" height="10" fill="#000" />
<rect x="906" y="207" width="3" height="8" fill="#fff" />
<rect x="915" y="195" width="1" height="30" fill="#000"/>
<rect x="913" y="206" width="5" height="18" fill="#000" />
<rect x="923" y="211" width="1" height="25" fill="#000"/>
<rect x="921" y="214" width="5" height="11" fill="#000" />
<rect x="922" y="215" width="3" height="9" fill="#fff" />
<rect x="931" y="203" width="1" height="37" fill="#000"/>
<rect x="929" y="214" width="5" height="25" fill="#000" />
<rect x="939" y="241" width="1" height="7" fill="#000"/>
<rect x="937" y="242" width="5" height="1" fill="#000" />
<rect x="947" y="213" width="1" height="32" fill="#000"/>
<rect x="945" y="214" width="5" height="29" fill="#000" />
<rect x="946" y="215" width="3" height="27" fill="#fff" />
<rect x="955" y="204" width="1" height="37" fill="#000"/>
<rect x="953" y="215" width="5" height="5" fill="#000" />
<rect x="963" y="212" width="1" height="45" fill="#000"/>
<rect x="961" y="219" width="5" height="32" fill="#000" />
<rect x="971" y="233" width="1" height="31" fill="#000"/>
<rect x="969" y="238" width="5" height="12" fill="#000" />
<rect x="970" y="239" width="3" height="10" fill="#fff" />
<rect x="979" y="233" width="1" height="38" fill="#000"/>
<rect x="977" y="239" width="5" height="27" fill="#000" />
<rect x="987" y="267" width="1" height="7" fill="#000"/>
<rect x="985" y="269" width="5" height="2" fill="#000" />
<rect x="995" y="235" width="1" height="37" fill="#000"/>
<rect x="993" y="238" width="5" height="31" fill="#000" />
<rect x="994" y="239" width="3" height="29" fill="#fff" />
<rect x="1003" y="228" width="1" height="22" fill="#000"/>
<rect x="1001" y="235" width="5" height="4" fill="#000" />
<rect x="1002" y="236" width="3" height="2" fill="#fff" />
<rect x="1011" y="222" width="1" height="25" fill="#000"/>
<rect x="1009" y="235" width="5" height="2" fill="#000" />
<rect x="1019" y="214" width="1" height="27" fill="#000"/>
<rect x="1017" y="229" width="5" height="9" fill="#000" />
<rect x="1018" y="230" width="3" height="7" fill="#fff" />
<rect x="1027" y="223" width="1" height="21" fill="#000"/>
<rect x="1025" y="229" width="5" height="7" fill="#000" />
<rect x="1035" y="225" width="1" height="4" fill="#000"/>
<rect x="1033" y="225" width="5" height="3" fill="#000" />
<rect x="1034" y="226" width="3" height="1" fill="#fff" />
<rect x="1043" y="206" width="1" height="21" fill="#000"/>
<rect x="1041" y="208" width="5" height="18" fill="#000" />
<rect x="1042" y="209" width="3" height="16" fill="#fff" />
<rect x="1051" y="205" width="1" height="25" fill="#000"/>
<rect x="1049" y="208" width="5" height="19" fill="#000" />
<rect x="1059" y="216" width="1" height="18" fill="#000"/>
<rect x="1057" y="218" width="5" height="9" fill="#000" />
<rect x="1058" y="219" width="3" height="7" fill="#fff" />
<rect x="1067" y="217" width="1" height="29" fill="#000"/>
<rect x="1065" y="218" width="5" height="15" fill="#000" />
<rect x="1075" y="218" width="1" height="33" fill="#000"/>
<rect x="1073" y="218" width="5" height="15" fill="#000" />
<rect x="1074" y="219" width="3" height="13" fill="#fff" />
<rect x="1083" y="211" width="1" height="5" fill="#000"/>
<rect x="1081" y="212" width="5" height="4" fill="#000" />
<rect x="1091" y="194" width="1" height="28" fill="#000"/>
<rect x="1089" y="214" width="5" height="3" fill="#000" />
<rect x="1099" y="180" width="1" height="44" fill="#000"/>
<rect x="1097" y="183" width="5" height="34" fill="#000" />
<rect x="1098" y="184" width="3" height="32" fill="#fff" />
<rect x="1107" y="169" width="1" height="23" fill="#000"/>
<rect x="1105" y="183" width="5" height="1" fill="#000" />
<rect x="1115" y="182" width="1" height="15" fill="#000"/>
<rect x="1113" y="183" width="5" height="7" fill="#000" />
<rect x="1123" y="184" width="1" height="11" fill="#000"/>
<rect x="1121" y="189" width="5" height="6" fill="#000" />
<rect x="1131" y="190" width="1" height="4" fill="#000"/>
<rect x="1129" y="190" width="5" height="3" fill="#000" />
<rect x="1130" y="191" width="3" height="1" fill="#fff" />
<rect x="1139" y="188" width="1" height="15" fill="#000"/>
<rect x="1137" y="190" width="5" height="1" fill="#000" />
<rect x="1147" y="176" width="1" height="15" fill="#000"/>
<rect x="1145" y="182" width="5" height="8" fill="#000" />
<rect x="1146" y="183" width="3" height="6" fill="#fff" />
<rect x="1155" y="175" width="1" height="19" fill="#000"/>
<rect x="1153" y="179" width="5" height="4" fill="#000" />
<rect x="1154" y="180" width="3" height="2" fill="#fff" />
<rect x="1163" y="169" width="1" height="29" fill="#000"/>
<rect x="1161" y="179" width="5" height="14" fill="#000" />
<rect x="1171" y="190" width="1" height="15" fill="#000"/>
<rect x="1169" y="192" width="5" height="12" fill="#000" />
<rect x="1179" y="202" width="1" height="6" fill="#000"/>
<rect x="1177" y="204" width="5" height="1" fill="#000" />
<rect x="1187" y="194" width="1" height="11" fill="#000"/>
<rect x="1185" y="194" width="5" height="11" fill="#000" />
<rect x="1186" y="195" width="3" height="9" fill="#fff" />
<rect x="1195" y="190" width="1" height="17" fill="#000"/>
<rect x="1193" y="194" width="5" height="10" fill="#000" />
<rect x="1203" y="195" width="1" height="15" fill="#000"/>
<rect x="1201" y="198" width="5" height="6" fill="#000" />
<rect x="1202" y="199" width="3" height="4" fill="#fff" />
<rect x="1211" y="197" width="1" height="27" fill="#000"/>
<rect x="1209" y="198" width="5" height="1" fill="#000" />
<rect x="1219" y="199" width="1" height="24" fill="#000"/>
<rect x="1217" y="200" width="5" height="2" fill="#000" />
<rect x="1227" y="202" width="1" height="5" fill="#000"/>
<rect x="1225" y="203" width="5" height="2" fill="#000" />
<rect x="1235" y="190" width="1" height="19" fill="#000"/>
<rect x="1233" y="192" width="5" height="12" fill="#000" />
<rect x="1234" y="193" width="3" height="10" fill="#fff" />
<rect x="1243" y="183" width="1" height="15" fill="#000"/>
<rect x="1241" y="184" width="5" height="9" fill="#000" />
<rect x="1242" y="185" width="3" height="7" fill="#fff" />
<rect x="1251" y="169" width="1" height="19" fill="#000"/>
<rect x="1249" y="169" width="5" height="16" fill="#000" />
<rect x="1250" y="170" width="3" height="14" fill="#fff" />
<rect x="1259" y="159" width="1" height="17" fill="#000"/>
<rect x="1257" y="160" width="5" height="9" fill="#000" />
<rect x="1258" y="161" width="3" height="7" fill="#fff" />
<rect x="1267" y="155" width="1" height="13" fill="#000"/>
<rect x="1265" y="157" width="5" height="4" fill="#000" />
<rect x="1266" y="158" width="3" height="2" fill="#fff" />
<rect x="1275" y="157" width="1" height="3" fill="#000"/>
<rect x="1273" y="157" width="5" height="3" fill="#000" />
<rect x="1274" y="158" width="3" height="1" fill="#fff" />
<rect x="1283" y="139" width="1" height="20" fill="#000"/>
<rect x="1281" y="140" width="5" height="18" fill="#000" />
<rect x="1282" y="141" width="3" height="16" fill="#fff" />
<rect x="1291" y="128" width="1" height="20" fill="#000"/>
<rect x="1289" y="140" width="5" height="3" fill="#000" />
<rect x="1299" y="128" width="1" height="17" fill="#000"/>
<rect x="1297" y="131" width="5" height="11" fill="#000" />
<rect x="1298" y="132" width="3" height="9" fill="#fff" />
<rect x="1307" y="129" width="1" height="11" fill="#000"/>
<rect x="1305" y="131" width="5" height="2" fill="#000" />
<rect x="1315" y="130" width="1" height="15" fill="#000"/>
<rect x="1313" y="131" width="5" height="6" fill="#000" />
<rect x="1323" y="132" width="1" height="3" fill="#000"/>
<rect x="1321" y="132" width="5" height="2" fill="#000" />
<rect x="1331" y="132" width="1" height="7" fill="#000"/>
<rect x="1329" y="133" width="5" height="2" fill="#000" />
<rect x="1339" y="131" width="1" height="15" fill="#000"/>
<rect x="1337" y="136" width="5" height="3" fill="#000" />
<rect x="1347" y="133" width="1" height="14" fill="#000"/>
<rect x="1345" y="138" width="5" height="9" fill="#000" />
<rect x="1355" y="138" width="1" height="17" fill="#000"/>
<rect x="1353" y="139" width="5" height="8" fill="#000" />
<rect x="1354" y="140" width="3" height="6" fill="#fff" />
<rect x="1363" y="131" width="1" height="20" fill="#000"/>
<rect x="1361" y="133" width="5" height="7" fill="#000" />
<rect x="1362" y="134" width="3" height="5" fill="#fff" />
<rect x="1371" y="128" width="1" height="6" fill="#000"/>
<rect x="1369" y="129" width="5" height="5" fill="#000" />
<rect x="1370" y="130" width="3" height="3" fill="#fff" />
<rect x="1379" y="112" width="1" height="21" fill="#000"/>
<rect x="1377" y="113" width="5" height="19" fill="#000" />
<rect x="1378" y="114" width="3" height="17" fill="#fff" />
<rect x="1387" y="104" width="1" height="21" fill="#000"/>
<rect x="1385" y="113" width="5" height="1" fill="#000" />
<rect x="1395" y="111" width="1" height="12" fill="#000"/>
<rect x="1393" y="112" width="5" height="1" fill="#000" />
<rect x="1403" y="99" width="1" height="15" fill="#000"/>
<rect x="1401" y="102" width="5" height="11" fill="#000" />
<rect x="1402" y="103" width="3" height="9" fill="#fff" />
<rect x="1411" y="93" width="1" height="14" fill="#000"/>
<rect x="1409" y="98" width="5" height="5" fill="#000" />
<rect x="1410" y="99" width="3" height="3" fill="#fff" />
<rect x="1419" y="90" width="1" height="10" fill="#000"/>
<rect x="1417" y="92" width="5" height="7" fill="#000" />
<rect x="1418" y="93" width="3" height="5" fill="#fff" />
<rect x="1427" y="90" width="1" height="23" fill="#000"/>
<rect x="1425" y="94" width="5" height="14" fill="#000" />
<rect x="1435" y="96" width="1" height="12" fill="#000"/>
<rect x="1433" y="97" width="5" height="11" fill="#000" />
<rect x="1434" y="98" width="3" height="9" fill="#fff" />
</g>
<g clip-path="url(#cm)">
<rect x="1192" y="114" width="292" height="7" fill="#00ff00" shape-rendering="crispEdges"/>
<rect x="1060" y="118" width="10" height="1" fill="#ff0000"/>
<rect x="1070.5" y="106.5" width="73" height="24" fill="#fff" stroke="#ff0000" stroke-width="1" shape-rendering="crispEdges"/>
<text x="1072" y="127" font-size="21.5" fill="#ff0000" textLength="70" lengthAdjust="spacingAndGlyphs" stroke="#ff0000" stroke-width="0.5" >28168.3</text>
<text x="1506.5" y="128.3" font-size="19.2" fill="#00ff00" font-family="'Liberation Serif','Noto Serif CJK SC',serif" font-weight="700" letter-spacing="3.6">多空转折点</text>
<rect x="1500" y="118" width="188" height="1" fill="#32cd32"/>
<line x1="1214.5" y1="204.6" x2="1296.5" y2="121.3" stroke="#ff0000" stroke-width="3.2" stroke-linecap="round"/><polygon points="1298.6,119.2 1288.1,124.0 1294.0,129.7" fill="#ff0000" stroke="#ff0000" stroke-width="1.6" stroke-linejoin="round"/>
<line x1="1298.6" y1="119.2" x2="1353.5" y2="139.9" stroke="#ff0000" stroke-width="3.2" stroke-linecap="round"/><polygon points="1356.3,141.0 1347.7,133.4 1344.8,141.1" fill="#ff0000" stroke="#ff0000" stroke-width="1.6" stroke-linejoin="round"/>
<line x1="1356.3" y1="141.0" x2="1424.0" y2="91.4" stroke="#ff0000" stroke-width="3.2" stroke-linecap="round"/><polygon points="1426.4,89.6 1415.3,92.6 1420.2,99.3" fill="#ff0000" stroke="#ff0000" stroke-width="1.6" stroke-linejoin="round"/>
<line x1="1426.4" y1="89.6" x2="1435.8" y2="112.2" stroke="#ff0000" stroke-width="3.2" stroke-linecap="round"/><polygon points="1437.0,115.0 1436.7,103.5 1429.1,106.7" fill="#ff0000" stroke="#ff0000" stroke-width="1.6" stroke-linejoin="round"/>
<line x1="1437.0" y1="115.0" x2="1444.6" y2="102.6" stroke="#ff0000" stroke-width="3.2" stroke-linecap="round"/><polygon points="1446.2,100.0 1437.1,107.0 1444.1,111.3" fill="#ff0000" stroke="#ff0000" stroke-width="1.6" stroke-linejoin="round"/>
</g>
<polygon points="1445,29 1454,29 1449.5,34" fill="#c0c0c0"/>
<polygon points="0,38 2.5,34.5 5,38" fill="#000"/>
<text transform="translate(10.2 40) scale(0.924 1)" font-size="9.9" fill="#000" stroke="#000" stroke-width="0.12" >DJ30-,Daily</text>
<text transform="translate(65.4 40) scale(0.924 1)" font-size="9.9" fill="#000" stroke="#000" stroke-width="0.12" >28414.0 28649.0 28256.0 28638.0</text>
<g clip-path="url(#cd)" shape-rendering="crispEdges">
<rect x="3" y="644" width="1" height="3" fill="#c0c0c0"/>
<rect x="11" y="644" width="1" height="1" fill="#c0c0c0" />
<rect x="19" y="644" width="1" height="1" fill="#c0c0c0" />
<rect x="27" y="643" width="1" height="2" fill="#c0c0c0"/>
<rect x="35" y="643" width="1" height="2" fill="#c0c0c0"/>
<rect x="43" y="642" width="1" height="3" fill="#c0c0c0"/>
<rect x="51" y="641" width="1" height="4" fill="#c0c0c0"/>
<rect x="59" y="639" width="1" height="6" fill="#c0c0c0"/>
<rect x="67" y="638" width="1" height="7" fill="#c0c0c0"/>
<rect x="75" y="638" width="1" height="7" fill="#c0c0c0"/>
<rect x="83" y="637" width="1" height="8" fill="#c0c0c0"/>
<rect x="91" y="638" width="1" height="7" fill="#c0c0c0"/>
<rect x="99" y="638" width="1" height="7" fill="#c0c0c0"/>
<rect x="107" y="638" width="1" height="7" fill="#c0c0c0"/>
<rect x="115" y="639" width="1" height="6" fill="#c0c0c0"/>
<rect x="123" y="640" width="1" height="5" fill="#c0c0c0"/>
<rect x="131" y="642" width="1" height="3" fill="#c0c0c0"/>
<rect x="147" y="644" width="1" height="7" fill="#c0c0c0"/>
<rect x="155" y="644" width="1" height="13" fill="#c0c0c0"/>
<rect x="163" y="644" width="1" height="22" fill="#c0c0c0"/>
<rect x="171" y="644" width="1" height="29" fill="#c0c0c0"/>
<rect x="179" y="644" width="1" height="36" fill="#c0c0c0"/>
<rect x="187" y="644" width="1" height="35" fill="#c0c0c0"/>
<rect x="195" y="644" width="1" height="37" fill="#c0c0c0"/>
<rect x="203" y="644" width="1" height="35" fill="#c0c0c0"/>
<rect x="211" y="644" width="1" height="35" fill="#c0c0c0"/>
<rect x="219" y="644" width="1" height="36" fill="#c0c0c0"/>
<rect x="227" y="644" width="1" height="40" fill="#c0c0c0"/>
<rect x="235" y="644" width="1" height="44" fill="#c0c0c0"/>
<rect x="243" y="644" width="1" height="46" fill="#c0c0c0"/>
<rect x="251" y="644" width="1" height="51" fill="#c0c0c0"/>
<rect x="259" y="644" width="1" height="64" fill="#c0c0c0"/>
<rect x="267" y="644" width="1" height="65" fill="#c0c0c0"/>
<rect x="275" y="644" width="1" height="69" fill="#c0c0c0"/>
<rect x="283" y="644" width="1" height="76" fill="#c0c0c0"/>
<rect x="291" y="644" width="1" height="83" fill="#c0c0c0"/>
<rect x="299" y="644" width="1" height="86" fill="#c0c0c0"/>
<rect x="307" y="644" width="1" height="91" fill="#c0c0c0"/>
<rect x="315" y="644" width="1" height="95" fill="#c0c0c0"/>
<rect x="323" y="644" width="1" height="100" fill="#c0c0c0"/>
<rect x="331" y="644" width="1" height="102" fill="#c0c0c0"/>
<rect x="339" y="644" width="1" height="95" fill="#c0c0c0"/>
<rect x="347" y="644" width="1" height="87" fill="#c0c0c0"/>
<rect x="355" y="644" width="1" height="74" fill="#c0c0c0"/>
<rect x="363" y="644" width="1" height="67" fill="#c0c0c0"/>
<rect x="371" y="644" width="1" height="62" fill="#c0c0c0"/>
<rect x="379" y="644" width="1" height="54" fill="#c0c0c0"/>
<rect x="387" y="644" width="1" height="49" fill="#c0c0c0"/>
<rect x="395" y="644" width="1" height="47" fill="#c0c0c0"/>
<rect x="403" y="644" width="1" height="44" fill="#c0c0c0"/>
<rect x="411" y="644" width="1" height="41" fill="#c0c0c0"/>
<rect x="419" y="644" width="1" height="38" fill="#c0c0c0"/>
<rect x="427" y="644" width="1" height="30" fill="#c0c0c0"/>
<rect x="435" y="644" width="1" height="24" fill="#c0c0c0"/>
<rect x="443" y="644" width="1" height="16" fill="#c0c0c0"/>
<rect x="451" y="644" width="1" height="8" fill="#c0c0c0"/>
<rect x="459" y="644" width="1" height="4" fill="#c0c0c0"/>
<rect x="475" y="640" width="1" height="5" fill="#c0c0c0"/>
<rect x="483" y="638" width="1" height="7" fill="#c0c0c0"/>
<rect x="491" y="634" width="1" height="11" fill="#c0c0c0"/>
<rect x="499" y="631" width="1" height="14" fill="#c0c0c0"/>
<rect x="507" y="629" width="1" height="16" fill="#c0c0c0"/>
<rect x="515" y="629" width="1" height="16" fill="#c0c0c0"/>
<rect x="523" y="631" width="1" height="14" fill="#c0c0c0"/>
<rect x="531" y="633" width="1" height="12" fill="#c0c0c0"/>
<rect x="539" y="633" width="1" height="12" fill="#c0c0c0"/>
<rect x="547" y="632" width="1" height="13" fill="#c0c0c0"/>
<rect x="555" y="633" width="1" height="12" fill="#c0c0c0"/>
<rect x="563" y="632" width="1" height="13" fill="#c0c0c0"/>
<rect x="571" y="631" width="1" height="14" fill="#c0c0c0"/>
<rect x="579" y="628" width="1" height="17" fill="#c0c0c0"/>
<rect x="587" y="628" width="1" height="17" fill="#c0c0c0"/>
<rect x="595" y="630" width="1" height="15" fill="#c0c0c0"/>
<rect x="603" y="633" width="1" height="12" fill="#c0c0c0"/>
<rect x="611" y="634" width="1" height="11" fill="#c0c0c0"/>
<rect x="619" y="634" width="1" height="11" fill="#c0c0c0"/>
<rect x="627" y="636" width="1" height="9" fill="#c0c0c0"/>
<rect x="635" y="635" width="1" height="10" fill="#c0c0c0"/>
<rect x="643" y="634" width="1" height="11" fill="#c0c0c0"/>
<rect x="651" y="633" width="1" height="12" fill="#c0c0c0"/>
<rect x="659" y="633" width="1" height="12" fill="#c0c0c0"/>
<rect x="667" y="636" width="1" height="9" fill="#c0c0c0"/>
<rect x="675" y="639" width="1" height="6" fill="#c0c0c0"/>
<rect x="683" y="640" width="1" height="5" fill="#c0c0c0"/>
<rect x="691" y="641" width="1" height="4" fill="#c0c0c0"/>
<rect x="699" y="641" width="1" height="4" fill="#c0c0c0"/>
<rect x="707" y="638" width="1" height="7" fill="#c0c0c0"/>
<rect x="715" y="637" width="1" height="8" fill="#c0c0c0"/>
<rect x="723" y="636" width="1" height="9" fill="#c0c0c0"/>
<rect x="731" y="635" width="1" height="10" fill="#c0c0c0"/>
<rect x="739" y="634" width="1" height="11" fill="#c0c0c0"/>
<rect x="747" y="633" width="1" height="12" fill="#c0c0c0"/>
<rect x="755" y="633" width="1" height="12" fill="#c0c0c0"/>
<rect x="763" y="631" width="1" height="14" fill="#c0c0c0"/>
<rect x="771" y="627" width="1" height="18" fill="#c0c0c0"/>
<rect x="779" y="626" width="1" height="19" fill="#c0c0c0"/>
<rect x="787" y="625" width="1" height="20" fill="#c0c0c0"/>
<rect x="795" y="625" width="1" height="20" fill="#c0c0c0"/>
<rect x="803" y="624" width="1" height="21" fill="#c0c0c0"/>
<rect x="811" y="623" width="1" height="22" fill="#c0c0c0"/>
<rect x="819" y="620" width="1" height="25" fill="#c0c0c0"/>
<rect x="827" y="619" width="1" height="26" fill="#c0c0c0"/>
<rect x="835" y="615" width="1" height="30" fill="#c0c0c0"/>
<rect x="843" y="611" width="1" height="34" fill="#c0c0c0"/>
<rect x="851" y="608" width="1" height="37" fill="#c0c0c0"/>
<rect x="859" y="607" width="1" height="38" fill="#c0c0c0"/>
<rect x="867" y="608" width="1" height="37" fill="#c0c0c0"/>
<rect x="875" y="614" width="1" height="31" fill="#c0c0c0"/>
<rect x="883" y="619" width="1" height="26" fill="#c0c0c0"/>
<rect x="891" y="624" width="1" height="21" fill="#c0c0c0"/>
<rect x="899" y="626" width="1" height="19" fill="#c0c0c0"/>
<rect x="907" y="626" width="1" height="19" fill="#c0c0c0"/>
<rect x="915" y="628" width="1" height="17" fill="#c0c0c0"/>
<rect x="923" y="629" width="1" height="16" fill="#c0c0c0"/>
<rect x="931" y="632" width="1" height="13" fill="#c0c0c0"/>
<rect x="939" y="635" width="1" height="10" fill="#c0c0c0"/>
<rect x="947" y="635" width="1" height="10" fill="#c0c0c0"/>
<rect x="955" y="636" width="1" height="9" fill="#c0c0c0"/>
<rect x="963" y="638" width="1" height="7" fill="#c0c0c0"/>
<rect x="971" y="640" width="1" height="5" fill="#c0c0c0"/>
<rect x="979" y="643" width="1" height="2" fill="#c0c0c0"/>
<rect x="1043" y="642" width="1" height="3" fill="#c0c0c0"/>
<rect x="1051" y="642" width="1" height="3" fill="#c0c0c0"/>
<rect x="1059" y="641" width="1" height="4" fill="#c0c0c0"/>
<rect x="1067" y="642" width="1" height="3" fill="#c0c0c0"/>
<rect x="1075" y="642" width="1" height="3" fill="#c0c0c0"/>
<rect x="1083" y="640" width="1" height="5" fill="#c0c0c0"/>
<rect x="1091" y="640" width="1" height="5" fill="#c0c0c0"/>
<rect x="1099" y="637" width="1" height="8" fill="#c0c0c0"/>
<rect x="1107" y="635" width="1" height="10" fill="#c0c0c0"/>
<rect x="1115" y="634" width="1" height="11" fill="#c0c0c0"/>
<rect x="1123" y="634" width="1" height="11" fill="#c0c0c0"/>
<rect x="1131" y="633" width="1" height="12" fill="#c0c0c0"/>
<rect x="1139" y="633" width="1" height="12" fill="#c0c0c0"/>
<rect x="1147" y="632" width="1" height="13" fill="#c0c0c0"/>
<rect x="1155" y="632" width="1" height="13" fill="#c0c0c0"/>
<rect x="1163" y="633" width="1" height="12" fill="#c0c0c0"/>
<rect x="1171" y="634" width="1" height="11" fill="#c0c0c0"/>
<rect x="1179" y="636" width="1" height="9" fill="#c0c0c0"/>
<rect x="1187" y="636" width="1" height="9" fill="#c0c0c0"/>
<rect x="1195" y="637" width="1" height="8" fill="#c0c0c0"/>
<rect x="1203" y="638" width="1" height="7" fill="#c0c0c0"/>
<rect x="1211" y="638" width="1" height="7" fill="#c0c0c0"/>
<rect x="1219" y="639" width="1" height="6" fill="#c0c0c0"/>
<rect x="1227" y="640" width="1" height="5" fill="#c0c0c0"/>
<rect x="1235" y="640" width="1" height="5" fill="#c0c0c0"/>
<rect x="1243" y="639" width="1" height="6" fill="#c0c0c0"/>
<rect x="1251" y="638" width="1" height="7" fill="#c0c0c0"/>
<rect x="1259" y="635" width="1" height="10" fill="#c0c0c0"/>
<rect x="1267" y="634" width="1" height="11" fill="#c0c0c0"/>
<rect x="1275" y="633" width="1" height="12" fill="#c0c0c0"/>
<rect x="1283" y="631" width="1" height="14" fill="#c0c0c0"/>
<rect x="1291" y="629" width="1" height="16" fill="#c0c0c0"/>
<rect x="1299" y="628" width="1" height="17" fill="#c0c0c0"/>
<rect x="1307" y="627" width="1" height="18" fill="#c0c0c0"/>
<rect x="1315" y="626" width="1" height="19" fill="#c0c0c0"/>
<rect x="1323" y="626" width="1" height="19" fill="#c0c0c0"/>
<rect x="1331" y="626" width="1" height="19" fill="#c0c0c0"/>
<rect x="1339" y="627" width="1" height="18" fill="#c0c0c0"/>
<rect x="1347" y="628" width="1" height="17" fill="#c0c0c0"/>
<rect x="1355" y="629" width="1" height="16" fill="#c0c0c0"/>
<rect x="1363" y="629" width="1" height="16" fill="#c0c0c0"/>
<rect x="1371" y="629" width="1" height="16" fill="#c0c0c0"/>
<rect x="1379" y="628" width="1" height="17" fill="#c0c0c0"/>
<rect x="1387" y="627" width="1" height="18" fill="#c0c0c0"/>
<rect x="1395" y="627" width="1" height="18" fill="#c0c0c0"/>
<rect x="1403" y="626" width="1" height="19" fill="#c0c0c0"/>
<rect x="1411" y="626" width="1" height="19" fill="#c0c0c0"/>
<rect x="1419" y="625" width="1" height="20" fill="#c0c0c0"/>
<rect x="1427" y="626" width="1" height="19" fill="#c0c0c0"/>
<rect x="1435" y="626" width="1" height="19" fill="#c0c0c0"/>
<path d="M879 612.5h1M883 612.5h3M871 613.5h3M877 613.5h2M889 613.5h3M865 614.5h3M895 614.5h3M901 614.5h2M861 615.5h1M903 615.5h1M907 615.5h2M859 616.5h2M909 616.5h1M853 617.5h3M913 617.5h3M849 618.5h1M919 618.5h2M847 619.5h2M921 619.5h1M841 620.5h3M925 620.5h3M835 621.5h3M931 621.5h1M829 622.5h3M932 622.5h2M825 623.5h1M823 624.5h2M937 624.5h1M817 625.5h3M938 625.5h2M813 626.5h1M943 626.5h2M1345 626.5h3M1351 626.5h3M1357 626.5h3M1363 626.5h3M1369 626.5h3M1417 626.5h3M1423 626.5h3M1429 626.5h3M1435 626.5h1M807 627.5h1M811 627.5h2M945 627.5h1M1335 627.5h1M1339 627.5h3M1375 627.5h3M1381 627.5h3M1387 627.5h3M1393 627.5h3M1399 627.5h3M1405 627.5h3M1411 627.5h3M799 628.5h3M805 628.5h2M949 628.5h3M1327 628.5h3M1333 628.5h2M793 629.5h3M955 629.5h2M1321 629.5h3M577 630.5h3M583 630.5h3M589 630.5h3M595 630.5h3M601 630.5h3M607 630.5h3M613 630.5h3M619 630.5h3M783 630.5h1M787 630.5h3M957 630.5h1M1315 630.5h3M543 631.5h1M547 631.5h3M553 631.5h3M559 631.5h3M565 631.5h3M571 631.5h3M625 631.5h3M631 631.5h3M637 631.5h3M643 631.5h3M777 631.5h1M781 631.5h2M961 631.5h3M1309 631.5h3M535 632.5h3M541 632.5h2M649 632.5h3M775 632.5h2M967 632.5h3M1167 632.5h1M1171 632.5h3M1177 632.5h3M1303 632.5h3M529 633.5h3M655 633.5h3M661 633.5h3M667 633.5h3M769 633.5h3M973 633.5h3M1159 633.5h3M1165 633.5h2M1183 633.5h3M1189 633.5h3M1195 633.5h3M1297 633.5h3M525 634.5h1M673 634.5h3M679 634.5h3M685 634.5h2M759 634.5h1M763 634.5h3M979 634.5h3M1153 634.5h3M1201 634.5h3M1207 634.5h3M1213 634.5h2M1287 634.5h1M1291 634.5h3M523 635.5h2M687 635.5h1M691 635.5h3M751 635.5h3M757 635.5h2M985 635.5h3M1143 635.5h1M1147 635.5h3M1215 635.5h1M1219 635.5h3M1279 635.5h3M1285 635.5h2M519 636.5h1M697 636.5h3M703 636.5h3M709 636.5h3M715 636.5h3M745 636.5h3M991 636.5h2M1129 636.5h3M1135 636.5h3M1141 636.5h2M1225 636.5h3M1273 636.5h3M111 637.5h1M115 637.5h3M121 637.5h3M517 637.5h2M721 637.5h3M727 637.5h3M733 637.5h3M739 637.5h3M993 637.5h1M1119 637.5h1M1123 637.5h3M1231 637.5h3M1237 637.5h3M1243 637.5h3M1249 637.5h3M1255 637.5h3M1261 637.5h3M1267 637.5h3M97 638.5h3M103 638.5h3M109 638.5h2M127 638.5h3M133 638.5h2M997 638.5h3M1111 638.5h3M1117 638.5h2M79 639.5h3M85 639.5h3M91 639.5h3M135 639.5h1M139 639.5h3M512 639.5h2M1003 639.5h2M1105 639.5h3M73 640.5h3M145 640.5h3M511 640.5h1M1005 640.5h1M1095 640.5h1M1099 640.5h3M63 641.5h1M67 641.5h3M151 641.5h3M1009 641.5h3M1081 641.5h3M1087 641.5h3M1093 641.5h2M55 642.5h3M61 642.5h2M157 642.5h1M506 642.5h2M1015 642.5h3M1021 642.5h2M1063 642.5h3M1069 642.5h3M1075 642.5h3M-5 643.5h3M1 643.5h3M49 643.5h3M158 643.5h1M505 643.5h1M1023 643.5h1M1027 643.5h3M1033 643.5h3M1047 643.5h1M1051 643.5h3M1057 643.5h3M7 644.5h3M13 644.5h3M19 644.5h3M25 644.5h3M31 644.5h3M37 644.5h3M43 644.5h3M159 644.5h1M501 644.5h1M1039 644.5h3M1045 644.5h2M499 645.5h2M163 646.5h2M165 647.5h1M169 648.5h1M495 648.5h1M170 649.5h2M493 649.5h2M175 652.5h1M489 652.5h1M176 653.5h1M487 653.5h2M177 654.5h1M181 656.5h1M483 656.5h1M182 657.5h1M481 657.5h2M183 658.5h1M187 660.5h1M476 660.5h2M188 661.5h2M475 661.5h1M193 663.5h1M194 664.5h2M471 664.5h1M469 665.5h2M199 666.5h1M200 667.5h2M465 668.5h1M205 669.5h1M463 669.5h2M206 670.5h2M211 672.5h2M458 672.5h2M213 673.5h1M457 673.5h1M217 674.5h1M218 675.5h2M452 675.5h2M451 676.5h1M223 677.5h3M229 679.5h3M447 679.5h1M235 680.5h2M445 680.5h2M237 681.5h1M241 682.5h3M247 683.5h2M441 683.5h1M249 684.5h1M439 684.5h2M253 685.5h2M255 686.5h1M259 687.5h2M434 687.5h2M261 688.5h1M433 688.5h1M265 689.5h1M266 690.5h2M428 690.5h2M427 691.5h1M271 692.5h3M423 694.5h1M277 695.5h2M421 695.5h2M279 696.5h1M417 698.5h1M283 699.5h1M415 699.5h2M284 700.5h2M411 702.5h1M289 703.5h2M409 703.5h2M291 704.5h1M404 706.5h2M295 707.5h1M403 707.5h1M296 708.5h1M297 709.5h1M399 710.5h1M301 711.5h1M397 711.5h2M302 712.5h1M303 713.5h1M307 715.5h1M393 715.5h1M308 716.5h2M392 716.5h1M391 717.5h1M313 719.5h2M315 720.5h1M387 721.5h1M385 722.5h2M319 723.5h2M321 724.5h1M380 725.5h2M325 726.5h1M379 726.5h1M326 727.5h2M374 728.5h2M331 729.5h1M373 729.5h1M332 730.5h2M367 731.5h3M337 732.5h1M338 733.5h2M361 733.5h3M343 734.5h3M349 734.5h3M355 734.5h3" fill="none" stroke="#ff0000" stroke-width="1" shape-rendering="crispEdges"/>
</g>
<text x="0" y="609.6" font-size="9.9" fill="#000" textLength="126.5" lengthAdjust="spacingAndGlyphs" stroke="#000" stroke-width="0.12" >MACD(12,26,9) 440.19 413.37</text>
<g clip-path="url(#cr)" shape-rendering="crispEdges">
<line x1="2" y1="791.5" x2="1688" y2="791.5" stroke="#c0c0c0" stroke-width="1" stroke-dasharray="3,3"/>
<line x1="2" y1="842.5" x2="1688" y2="842.5" stroke="#c0c0c0" stroke-width="1" stroke-dasharray="3,3"/>
<line x1="2" y1="903.5" x2="1688" y2="903.5" stroke="#c0c0c0" stroke-width="1" stroke-dasharray="3,3"/>
<path d="M1418 796.5h2M849 797.5h3M1415 797.5h3M1419 797.5h1M845 798.5h4M852 798.5h2M1413 798.5h2M1420 798.5h1M841 799.5h4M854 799.5h2M1407 799.5h6M1420 799.5h1M837 800.5h4M856 800.5h2M1403 800.5h4M1421 800.5h1M835 801.5h2M858 801.5h2M1298 801.5h10M1401 801.5h2M1421 801.5h1M834 802.5h1M859 802.5h1M1296 802.5h2M1308 802.5h2M1379 802.5h1M1399 802.5h2M1422 802.5h1M833 803.5h1M860 803.5h1M1294 803.5h2M1310 803.5h1M1378 803.5h1M1380 803.5h1M1398 803.5h1M1422 803.5h1M833 804.5h1M860 804.5h1M1283 804.5h4M1292 804.5h2M1311 804.5h2M1321 804.5h4M1377 804.5h1M1381 804.5h2M1396 804.5h2M1422 804.5h1M832 805.5h1M861 805.5h1M1282 805.5h1M1287 805.5h5M1313 805.5h2M1317 805.5h4M1325 805.5h2M1377 805.5h1M1383 805.5h1M1394 805.5h2M1423 805.5h1M831 806.5h1M861 806.5h1M1281 806.5h1M1315 806.5h2M1327 806.5h3M1376 806.5h1M1384 806.5h1M1391 806.5h3M1423 806.5h1M830 807.5h1M862 807.5h1M1280 807.5h1M1330 807.5h2M1375 807.5h1M1385 807.5h2M1389 807.5h2M1424 807.5h1M819 808.5h2M829 808.5h1M862 808.5h1M1279 808.5h1M1332 808.5h1M1374 808.5h1M1387 808.5h2M1424 808.5h1M818 809.5h1M821 809.5h2M829 809.5h1M863 809.5h1M1278 809.5h1M1333 809.5h2M1373 809.5h1M1424 809.5h1M817 810.5h1M823 810.5h3M828 810.5h1M863 810.5h1M1277 810.5h1M1335 810.5h1M1373 810.5h1M1425 810.5h1M815 811.5h2M826 811.5h2M864 811.5h1M1265 811.5h6M1276 811.5h1M1336 811.5h1M1372 811.5h1M1425 811.5h1M1434 811.5h2M771 812.5h1M814 812.5h1M864 812.5h1M1261 812.5h4M1271 812.5h5M1337 812.5h2M1369 812.5h3M1426 812.5h1M1432 812.5h2M770 813.5h1M772 813.5h1M813 813.5h1M865 813.5h1M1258 813.5h3M1339 813.5h1M1365 813.5h4M1426 813.5h1M1430 813.5h2M769 814.5h1M773 814.5h1M812 814.5h1M865 814.5h1M1256 814.5h2M1340 814.5h1M1362 814.5h3M1427 814.5h3M769 815.5h1M774 815.5h1M811 815.5h1M866 815.5h1M1254 815.5h2M1341 815.5h1M1359 815.5h3M1427 815.5h1M768 816.5h1M775 816.5h1M810 816.5h1M866 816.5h1M1252 816.5h2M1341 816.5h1M1357 816.5h2M767 817.5h1M776 817.5h1M809 817.5h1M867 817.5h1M1251 817.5h1M1342 817.5h1M1355 817.5h2M766 818.5h1M777 818.5h1M785 818.5h3M808 818.5h1M867 818.5h1M1250 818.5h1M1343 818.5h1M1353 818.5h2M765 819.5h1M778 819.5h1M781 819.5h4M788 819.5h1M807 819.5h1M867 819.5h1M1249 819.5h1M1344 819.5h1M1352 819.5h1M765 820.5h1M779 820.5h2M789 820.5h2M806 820.5h1M868 820.5h1M1249 820.5h1M1345 820.5h1M1351 820.5h1M18 821.5h2M764 821.5h1M791 821.5h1M805 821.5h1M868 821.5h1M1248 821.5h1M1345 821.5h1M1349 821.5h2M16 822.5h2M20 822.5h1M763 822.5h1M792 822.5h1M804 822.5h1M868 822.5h1M1099 822.5h9M1151 822.5h5M1247 822.5h1M1346 822.5h1M1348 822.5h1M14 823.5h2M20 823.5h1M81 823.5h3M579 823.5h1M761 823.5h2M793 823.5h2M799 823.5h5M868 823.5h1M1098 823.5h1M1108 823.5h2M1146 823.5h5M1156 823.5h1M1246 823.5h1M1347 823.5h1M12 824.5h2M21 824.5h1M58 824.5h5M77 824.5h4M84 824.5h2M578 824.5h1M580 824.5h1M759 824.5h2M795 824.5h4M869 824.5h1M1098 824.5h1M1110 824.5h2M1144 824.5h2M1157 824.5h1M1245 824.5h1M11 825.5h1M21 825.5h1M56 825.5h2M63 825.5h14M86 825.5h1M577 825.5h1M581 825.5h1M758 825.5h1M869 825.5h1M1097 825.5h1M1112 825.5h2M1142 825.5h2M1157 825.5h1M1245 825.5h1M11 826.5h1M22 826.5h1M54 826.5h2M87 826.5h2M575 826.5h2M581 826.5h1M756 826.5h2M869 826.5h1M1097 826.5h1M1114 826.5h3M1140 826.5h2M1158 826.5h1M1244 826.5h1M10 827.5h1M23 827.5h1M52 827.5h2M89 827.5h2M574 827.5h1M582 827.5h1M707 827.5h1M753 827.5h3M870 827.5h1M1096 827.5h1M1117 827.5h2M1129 827.5h11M1159 827.5h1M1243 827.5h1M10 828.5h1M23 828.5h1M47 828.5h5M91 828.5h2M106 828.5h2M491 828.5h10M573 828.5h1M583 828.5h1M706 828.5h1M708 828.5h1M749 828.5h4M870 828.5h1M1095 828.5h1M1119 828.5h3M1125 828.5h4M1160 828.5h1M1241 828.5h2M9 829.5h1M24 829.5h1M43 829.5h4M93 829.5h2M103 829.5h3M108 829.5h1M474 829.5h2M490 829.5h1M501 829.5h4M572 829.5h1M584 829.5h1M647 829.5h5M706 829.5h1M709 829.5h1M745 829.5h4M870 829.5h1M1095 829.5h1M1122 829.5h3M1161 829.5h1M1239 829.5h2M9 830.5h1M25 830.5h1M42 830.5h1M95 830.5h3M101 830.5h2M108 830.5h1M449 830.5h3M472 830.5h2M476 830.5h1M489 830.5h1M505 830.5h3M563 830.5h9M585 830.5h1M643 830.5h4M652 830.5h2M705 830.5h1M710 830.5h1M722 830.5h13M741 830.5h4M871 830.5h1M1043 830.5h1M1094 830.5h1M1161 830.5h1M1238 830.5h1M8 831.5h1M25 831.5h1M41 831.5h1M98 831.5h3M109 831.5h1M445 831.5h4M452 831.5h2M470 831.5h2M477 831.5h1M488 831.5h1M508 831.5h1M561 831.5h2M585 831.5h1M641 831.5h2M654 831.5h1M705 831.5h1M711 831.5h2M720 831.5h2M735 831.5h6M871 831.5h1M1042 831.5h1M1044 831.5h1M1093 831.5h1M1162 831.5h1M1236 831.5h2M8 832.5h1M26 832.5h1M41 832.5h1M109 832.5h1M443 832.5h2M454 832.5h2M468 832.5h2M478 832.5h1M487 832.5h1M509 832.5h2M559 832.5h2M586 832.5h1M639 832.5h2M655 832.5h2M704 832.5h1M713 832.5h1M718 832.5h2M871 832.5h1M905 832.5h3M1041 832.5h1M1045 832.5h1M1093 832.5h1M1163 832.5h1M1235 832.5h1M7 833.5h1M26 833.5h1M40 833.5h1M110 833.5h1M442 833.5h1M456 833.5h2M463 833.5h5M479 833.5h2M486 833.5h1M511 833.5h1M558 833.5h1M587 833.5h1M638 833.5h1M657 833.5h2M703 833.5h1M714 833.5h1M716 833.5h2M871 833.5h1M901 833.5h4M908 833.5h1M1039 833.5h2M1046 833.5h1M1092 833.5h1M1164 833.5h1M1187 833.5h1M1234 833.5h1M7 834.5h1M27 834.5h1M39 834.5h1M110 834.5h1M441 834.5h1M458 834.5h5M481 834.5h1M485 834.5h1M512 834.5h1M547 834.5h4M556 834.5h2M588 834.5h1M636 834.5h2M659 834.5h1M703 834.5h1M715 834.5h1M872 834.5h1M899 834.5h2M909 834.5h2M1038 834.5h1M1047 834.5h1M1092 834.5h1M1165 834.5h1M1185 834.5h2M1188 834.5h1M1233 834.5h1M6 835.5h1M28 835.5h2M38 835.5h1M111 835.5h1M439 835.5h2M482 835.5h1M484 835.5h1M513 835.5h2M545 835.5h2M551 835.5h5M589 835.5h2M635 835.5h1M660 835.5h1M702 835.5h1M872 835.5h1M898 835.5h1M911 835.5h1M922 835.5h2M947 835.5h2M1037 835.5h1M1047 835.5h1M1079 835.5h13M1166 835.5h1M1184 835.5h1M1189 835.5h1M1232 835.5h1M6 836.5h1M30 836.5h1M37 836.5h1M111 836.5h1M438 836.5h1M483 836.5h1M515 836.5h1M543 836.5h2M591 836.5h1M618 836.5h2M634 836.5h1M660 836.5h1M701 836.5h1M872 836.5h1M898 836.5h1M912 836.5h1M919 836.5h3M924 836.5h1M946 836.5h1M949 836.5h4M1036 836.5h1M1048 836.5h1M1058 836.5h2M1075 836.5h4M1167 836.5h2M1183 836.5h1M1190 836.5h1M1231 836.5h1M5 837.5h1M31 837.5h2M37 837.5h1M112 837.5h1M437 837.5h1M516 837.5h1M542 837.5h1M592 837.5h1M615 837.5h3M620 837.5h1M633 837.5h1M661 837.5h1M701 837.5h1M873 837.5h1M897 837.5h1M913 837.5h2M917 837.5h2M925 837.5h1M945 837.5h1M953 837.5h3M1034 837.5h2M1049 837.5h1M1055 837.5h3M1060 837.5h1M1073 837.5h2M1169 837.5h1M1181 837.5h2M1191 837.5h2M1202 837.5h11M1230 837.5h1M5 838.5h1M33 838.5h2M36 838.5h1M112 838.5h1M427 838.5h4M436 838.5h1M517 838.5h2M540 838.5h2M593 838.5h2M613 838.5h2M621 838.5h2M631 838.5h2M662 838.5h1M700 838.5h1M873 838.5h1M897 838.5h1M915 838.5h2M926 838.5h1M945 838.5h1M956 838.5h1M1032 838.5h2M1050 838.5h1M1053 838.5h2M1061 838.5h2M1072 838.5h1M1170 838.5h1M1180 838.5h1M1193 838.5h1M1199 838.5h3M1213 838.5h2M1229 838.5h1M4 839.5h1M35 839.5h1M113 839.5h1M426 839.5h1M431 839.5h5M519 839.5h1M530 839.5h10M595 839.5h1M611 839.5h2M623 839.5h1M630 839.5h1M662 839.5h1M700 839.5h1M873 839.5h1M896 839.5h1M927 839.5h1M944 839.5h1M956 839.5h1M1017 839.5h4M1030 839.5h2M1051 839.5h2M1063 839.5h1M1071 839.5h1M1171 839.5h9M1194 839.5h1M1197 839.5h2M1215 839.5h3M1228 839.5h1M4 840.5h1M113 840.5h1M426 840.5h1M520 840.5h1M527 840.5h3M596 840.5h2M609 840.5h2M624 840.5h1M629 840.5h1M663 840.5h1M698 840.5h2M874 840.5h1M895 840.5h1M927 840.5h1M943 840.5h1M957 840.5h1M1013 840.5h4M1021 840.5h4M1028 840.5h2M1064 840.5h1M1069 840.5h2M1195 840.5h2M1218 840.5h10M3 841.5h1M114 841.5h1M425 841.5h1M521 841.5h2M525 841.5h2M598 841.5h1M607 841.5h2M625 841.5h2M628 841.5h1M664 841.5h1M696 841.5h2M874 841.5h1M895 841.5h1M928 841.5h1M942 841.5h1M958 841.5h1M999 841.5h14M1025 841.5h3M1065 841.5h2M1068 841.5h1M2 842.5h1M114 842.5h1M425 842.5h1M523 842.5h2M599 842.5h2M606 842.5h1M627 842.5h1M664 842.5h1M683 842.5h2M694 842.5h2M874 842.5h1M882 842.5h2M894 842.5h1M929 842.5h1M941 842.5h1M959 842.5h1M995 842.5h4M1067 842.5h1M1 843.5h1M115 843.5h2M424 843.5h1M601 843.5h2M604 843.5h2M665 843.5h1M682 843.5h1M685 843.5h4M692 843.5h2M874 843.5h1M879 843.5h3M884 843.5h2M893 843.5h1M930 843.5h1M941 843.5h1M959 843.5h1M994 843.5h1M1 844.5h1M117 844.5h2M423 844.5h1M603 844.5h1M666 844.5h1M681 844.5h1M689 844.5h3M875 844.5h1M877 844.5h2M886 844.5h1M893 844.5h1M931 844.5h4M940 844.5h1M960 844.5h1M970 844.5h2M994 844.5h1M0 845.5h1M119 845.5h3M355 845.5h1M423 845.5h1M666 845.5h1M679 845.5h2M875 845.5h2M887 845.5h2M892 845.5h1M935 845.5h5M961 845.5h1M968 845.5h2M972 845.5h1M993 845.5h1M-1 846.5h1M122 846.5h2M354 846.5h1M356 846.5h1M379 846.5h1M422 846.5h1M667 846.5h2M678 846.5h1M889 846.5h2M892 846.5h1M962 846.5h1M966 846.5h2M973 846.5h1M992 846.5h1M-2 847.5h1M124 847.5h1M354 847.5h1M357 847.5h1M378 847.5h1M380 847.5h2M421 847.5h1M669 847.5h2M677 847.5h1M891 847.5h1M962 847.5h1M964 847.5h2M974 847.5h1M992 847.5h1M-3 848.5h1M124 848.5h1M353 848.5h1M358 848.5h1M377 848.5h1M382 848.5h1M421 848.5h1M671 848.5h3M676 848.5h1M963 848.5h1M975 848.5h1M991 848.5h1M-3 849.5h1M125 849.5h1M352 849.5h1M359 849.5h2M376 849.5h1M383 849.5h2M420 849.5h1M674 849.5h2M975 849.5h1M990 849.5h1M-4 850.5h1M125 850.5h1M352 850.5h1M361 850.5h1M375 850.5h1M385 850.5h2M420 850.5h1M976 850.5h1M990 850.5h1M-5 851.5h1M126 851.5h1M351 851.5h1M362 851.5h1M375 851.5h1M387 851.5h2M418 851.5h2M977 851.5h1M989 851.5h1M127 852.5h1M350 852.5h1M363 852.5h2M374 852.5h1M389 852.5h2M401 852.5h4M415 852.5h3M978 852.5h1M988 852.5h1M127 853.5h1M350 853.5h1M365 853.5h2M373 853.5h1M391 853.5h3M397 853.5h4M405 853.5h4M413 853.5h2M979 853.5h4M988 853.5h1M128 854.5h1M203 854.5h1M349 854.5h1M367 854.5h3M372 854.5h1M394 854.5h3M409 854.5h4M983 854.5h5M129 855.5h1M203 855.5h2M348 855.5h1M370 855.5h2M129 856.5h1M202 856.5h1M205 856.5h1M348 856.5h1M130 857.5h1M202 857.5h1M206 857.5h1M347 857.5h1M130 858.5h1M201 858.5h1M207 858.5h1M345 858.5h2M131 859.5h1M201 859.5h1M208 859.5h1M343 859.5h2M132 860.5h1M200 860.5h1M209 860.5h1M342 860.5h1M132 861.5h1M200 861.5h1M210 861.5h1M340 861.5h2M133 862.5h1M200 862.5h1M211 862.5h2M339 862.5h1M133 863.5h1M199 863.5h1M213 863.5h2M339 863.5h1M134 864.5h1M187 864.5h1M199 864.5h1M215 864.5h3M338 864.5h1M134 865.5h1M187 865.5h2M198 865.5h1M218 865.5h2M338 865.5h1M135 866.5h1M187 866.5h1M189 866.5h1M198 866.5h1M220 866.5h1M337 866.5h1M135 867.5h1M186 867.5h1M190 867.5h1M198 867.5h1M221 867.5h1M267 867.5h1M337 867.5h1M136 868.5h1M186 868.5h1M191 868.5h1M197 868.5h1M221 868.5h1M267 868.5h2M337 868.5h1M136 869.5h1M186 869.5h1M191 869.5h1M197 869.5h1M222 869.5h1M266 869.5h1M269 869.5h2M336 869.5h1M137 870.5h1M186 870.5h1M192 870.5h1M196 870.5h1M223 870.5h1M266 870.5h1M271 870.5h1M336 870.5h1M137 871.5h1M186 871.5h1M193 871.5h1M196 871.5h1M224 871.5h1M266 871.5h1M272 871.5h1M335 871.5h1M138 872.5h1M185 872.5h1M194 872.5h2M225 872.5h1M266 872.5h1M273 872.5h2M335 872.5h1M138 873.5h1M185 873.5h1M195 873.5h1M225 873.5h1M265 873.5h1M275 873.5h1M335 873.5h1M139 874.5h1M185 874.5h1M226 874.5h1M242 874.5h2M265 874.5h1M276 874.5h1M334 874.5h1M140 875.5h1M185 875.5h1M227 875.5h2M240 875.5h2M244 875.5h1M265 875.5h1M277 875.5h2M334 875.5h1M140 876.5h1M185 876.5h1M229 876.5h2M238 876.5h2M245 876.5h1M264 876.5h1M279 876.5h1M333 876.5h1M141 877.5h1M185 877.5h1M231 877.5h3M236 877.5h2M246 877.5h1M264 877.5h1M280 877.5h1M333 877.5h1M141 878.5h1M184 878.5h1M234 878.5h2M247 878.5h2M264 878.5h1M281 878.5h2M333 878.5h1M142 879.5h1M184 879.5h1M249 879.5h1M263 879.5h1M283 879.5h2M332 879.5h1M142 880.5h1M184 880.5h1M250 880.5h1M263 880.5h1M285 880.5h4M332 880.5h1M143 881.5h1M184 881.5h1M251 881.5h1M263 881.5h1M289 881.5h12M331 881.5h1M144 882.5h1M184 882.5h1M252 882.5h1M263 882.5h1M301 882.5h2M331 882.5h1M144 883.5h1M183 883.5h1M252 883.5h1M262 883.5h1M303 883.5h3M330 883.5h1M145 884.5h1M183 884.5h1M253 884.5h1M262 884.5h1M306 884.5h3M329 884.5h1M145 885.5h1M183 885.5h1M253 885.5h1M262 885.5h1M309 885.5h4M328 885.5h1M146 886.5h1M183 886.5h1M254 886.5h1M261 886.5h1M313 886.5h3M327 886.5h1M146 887.5h1M183 887.5h1M255 887.5h1M261 887.5h1M316 887.5h2M326 887.5h1M147 888.5h2M182 888.5h1M255 888.5h1M261 888.5h1M318 888.5h2M325 888.5h1M149 889.5h2M182 889.5h1M256 889.5h1M260 889.5h1M320 889.5h2M324 889.5h1M151 890.5h3M182 890.5h1M257 890.5h1M260 890.5h1M322 890.5h2M154 891.5h2M182 891.5h1M257 891.5h1M260 891.5h1M156 892.5h1M182 892.5h1M258 892.5h1M260 892.5h1M156 893.5h1M181 893.5h1M258 893.5h2M157 894.5h1M181 894.5h1M259 894.5h1M158 895.5h1M181 895.5h1M159 896.5h1M181 896.5h1M159 897.5h1M181 897.5h1M160 898.5h1M181 898.5h1M161 899.5h1M180 899.5h1M162 900.5h1M180 900.5h1M162 901.5h1M180 901.5h1M163 902.5h4M180 902.5h1M167 903.5h6M180 903.5h1M173 904.5h2M179 904.5h1M175 905.5h3M179 905.5h1M178 906.5h2" fill="none" stroke="#1e90ff" stroke-width="1" shape-rendering="crispEdges"/>
</g>
<text transform="translate(0 767.6) scale(0.924 1)" font-size="9.9" fill="#000" stroke="#000" stroke-width="0.12" >RSI(14) 69.1710</text>
<g shape-rendering="crispEdges">
<rect x="0" y="28" width="1689" height="1" fill="#000"/>
<rect x="0" y="595" width="1689" height="1" fill="#000"/>
<rect x="0" y="597" width="1689" height="1" fill="#000"/>
<rect x="0" y="753" width="1689" height="1" fill="#000"/>
<rect x="0" y="755" width="1689" height="1" fill="#000"/>
<rect x="0" y="929" width="1689" height="1" fill="#000"/>
<rect x="1688" y="28" width="1" height="902" fill="#000"/>
<rect x="1734" y="26" width="1" height="923" fill="#d0d0d0"/>
<rect x="59" y="930" width="1" height="3" fill="#000"/>
<rect x="123" y="930" width="1" height="3" fill="#000"/>
<rect x="187" y="930" width="1" height="3" fill="#000"/>
<rect x="251" y="930" width="1" height="3" fill="#000"/>
<rect x="315" y="930" width="1" height="3" fill="#000"/>
<rect x="379" y="930" width="1" height="3" fill="#000"/>
<rect x="443" y="930" width="1" height="3" fill="#000"/>
<rect x="507" y="930" width="1" height="3" fill="#000"/>
<rect x="571" y="930" width="1" height="3" fill="#000"/>
<rect x="635" y="930" width="1" height="3" fill="#000"/>
<rect x="699" y="930" width="1" height="3" fill="#000"/>
<rect x="763" y="930" width="1" height="3" fill="#000"/>
<rect x="827" y="930" width="1" height="3" fill="#000"/>
<rect x="891" y="930" width="1" height="3" fill="#000"/>
<rect x="955" y="930" width="1" height="3" fill="#000"/>
<rect x="1019" y="930" width="1" height="3" fill="#000"/>
<rect x="1083" y="930" width="1" height="3" fill="#000"/>
<rect x="1147" y="930" width="1" height="3" fill="#000"/>
<rect x="1211" y="930" width="1" height="3" fill="#000"/>
<rect x="1275" y="930" width="1" height="3" fill="#000"/>
<rect x="1339" y="930" width="1" height="3" fill="#000"/>
<rect x="1403" y="930" width="1" height="3" fill="#000"/>
</g>
<text transform="translate(-5.5 941.8) scale(0.924 1)" font-size="9.9" fill="#000" stroke="#000" stroke-width="0.12" >3 Feb 2020</text>
<text transform="translate(58.5 941.8) scale(0.924 1)" font-size="9.9" fill="#000" stroke="#000" stroke-width="0.12" >12 Feb 2020</text>
<text transform="translate(122.5 941.8) scale(0.924 1)" font-size="9.9" fill="#000" stroke="#000" stroke-width="0.12" >21 Feb 2020</text>
<text transform="translate(186.5 941.8) scale(0.924 1)" font-size="9.9" fill="#000" stroke="#000" stroke-width="0.12" >2 Mar 2020</text>
<text transform="translate(250.5 941.8) scale(0.924 1)" font-size="9.9" fill="#000" stroke="#000" stroke-width="0.12" >11 Mar 2020</text>
<text transform="translate(314.5 941.8) scale(0.924 1)" font-size="9.9" fill="#000" stroke="#000" stroke-width="0.12" >20 Mar 2020</text>
<text transform="translate(378.5 941.8) scale(0.924 1)" font-size="9.9" fill="#000" stroke="#000" stroke-width="0.12" >30 Mar 2020</text>
<text transform="translate(442.5 941.8) scale(0.924 1)" font-size="9.9" fill="#000" stroke="#000" stroke-width="0.12" >8 Apr 2020</text>
<text transform="translate(506.5 941.8) scale(0.924 1)" font-size="9.9" fill="#000" stroke="#000" stroke-width="0.12" >19 Apr 2020</text>
<text transform="translate(570.5 941.8) scale(0.924 1)" font-size="9.9" fill="#000" stroke="#000" stroke-width="0.12" >28 Apr 2020</text>
<text transform="translate(634.5 941.8) scale(0.924 1)" font-size="9.9" fill="#000" stroke="#000" stroke-width="0.12" >7 May 2020</text>
<text transform="translate(698.5 941.8) scale(0.924 1)" font-size="9.9" fill="#000" stroke="#000" stroke-width="0.12" >17 May 2020</text>
<text transform="translate(762.5 941.8) scale(0.924 1)" font-size="9.9" fill="#000" stroke="#000" stroke-width="0.12" >26 May 2020</text>
<text transform="translate(826.5 941.8) scale(0.924 1)" font-size="9.9" fill="#000" stroke="#000" stroke-width="0.12" >4 Jun 2020</text>
<text transform="translate(890.5 941.8) scale(0.924 1)" font-size="9.9" fill="#000" stroke="#000" stroke-width="0.12" >14 Jun 2020</text>
<text transform="translate(954.5 941.8) scale(0.924 1)" font-size="9.9" fill="#000" stroke="#000" stroke-width="0.12" >23 Jun 2020</text>
<text transform="translate(1018.5 941.8) scale(0.924 1)" font-size="9.9" fill="#000" stroke="#000" stroke-width="0.12" >2 Jul 2020</text>
<text transform="translate(1082.5 941.8) scale(0.924 1)" font-size="9.9" fill="#000" stroke="#000" stroke-width="0.12" >12 Jul 2020</text>
<text transform="translate(1146.5 941.8) scale(0.924 1)" font-size="9.9" fill="#000" stroke="#000" stroke-width="0.12" >21 Jul 2020</text>
<text transform="translate(1210.5 941.8) scale(0.924 1)" font-size="9.9" fill="#000" stroke="#000" stroke-width="0.12" >30 Jul 2020</text>
<text transform="translate(1274.5 941.8) scale(0.924 1)" font-size="9.9" fill="#000" stroke="#000" stroke-width="0.12" >9 Aug 2020</text>
<text transform="translate(1338.5 941.8) scale(0.924 1)" font-size="9.9" fill="#000" stroke="#000" stroke-width="0.12" >18 Aug 2020</text>
<text transform="translate(1402.5 941.8) scale(0.924 1)" font-size="9.9" fill="#000" stroke="#000" stroke-width="0.12" >27 Aug 2020</text>
<rect x="1689" y="31" width="2" height="1" fill="#000"/>
<text transform="translate(1694 34.6) scale(0.924 1)" font-size="9.9" fill="#000" stroke="#000" stroke-width="0.12" >30076.0</text>
<rect x="1689" y="64" width="2" height="1" fill="#000"/>
<text transform="translate(1694 67.6) scale(0.924 1)" font-size="9.9" fill="#000" stroke="#000" stroke-width="0.12" >29345.0</text>
<rect x="1689" y="97" width="2" height="1" fill="#000"/>
<text transform="translate(1694 100.6) scale(0.924 1)" font-size="9.9" fill="#000" stroke="#000" stroke-width="0.12" >28614.0</text>
<rect x="1689" y="130" width="2" height="1" fill="#000"/>
<text transform="translate(1694 133.6) scale(0.924 1)" font-size="9.9" fill="#000" stroke="#000" stroke-width="0.12" >27884.5</text>
<rect x="1689" y="163" width="2" height="1" fill="#000"/>
<text transform="translate(1694 166.6) scale(0.924 1)" font-size="9.9" fill="#000" stroke="#000" stroke-width="0.12" >27195.0</text>
<rect x="1689" y="196" width="2" height="1" fill="#000"/>
<text transform="translate(1694 199.6) scale(0.924 1)" font-size="9.9" fill="#000" stroke="#000" stroke-width="0.12" >26464.0</text>
<rect x="1689" y="229" width="2" height="1" fill="#000"/>
<text transform="translate(1694 232.6) scale(0.924 1)" font-size="9.9" fill="#000" stroke="#000" stroke-width="0.12" >25733.0</text>
<rect x="1689" y="262" width="2" height="1" fill="#000"/>
<text transform="translate(1694 265.6) scale(0.924 1)" font-size="9.9" fill="#000" stroke="#000" stroke-width="0.12" >25023.5</text>
<rect x="1689" y="295" width="2" height="1" fill="#000"/>
<text transform="translate(1694 298.6) scale(0.924 1)" font-size="9.9" fill="#000" stroke="#000" stroke-width="0.12" >24292.5</text>
<rect x="1689" y="328" width="2" height="1" fill="#000"/>
<text transform="translate(1694 331.6) scale(0.924 1)" font-size="9.9" fill="#000" stroke="#000" stroke-width="0.12" >23583.0</text>
<rect x="1689" y="361" width="2" height="1" fill="#000"/>
<text transform="translate(1694 364.6) scale(0.924 1)" font-size="9.9" fill="#000" stroke="#000" stroke-width="0.12" >22852.0</text>
<rect x="1689" y="394" width="2" height="1" fill="#000"/>
<text transform="translate(1694 397.6) scale(0.924 1)" font-size="9.9" fill="#000" stroke="#000" stroke-width="0.12" >22121.0</text>
<rect x="1689" y="427" width="2" height="1" fill="#000"/>
<text transform="translate(1694 430.6) scale(0.924 1)" font-size="9.9" fill="#000" stroke="#000" stroke-width="0.12" >21411.5</text>
<rect x="1689" y="460" width="2" height="1" fill="#000"/>
<text transform="translate(1694 463.6) scale(0.924 1)" font-size="9.9" fill="#000" stroke="#000" stroke-width="0.12" >20680.5</text>
<rect x="1689" y="493" width="2" height="1" fill="#000"/>
<text transform="translate(1694 496.6) scale(0.924 1)" font-size="9.9" fill="#000" stroke="#000" stroke-width="0.12" >19949.5</text>
<rect x="1689" y="526" width="2" height="1" fill="#000"/>
<text transform="translate(1694 529.6) scale(0.924 1)" font-size="9.9" fill="#000" stroke="#000" stroke-width="0.12" >19240.0</text>
<rect x="1689" y="559" width="2" height="1" fill="#000"/>
<text transform="translate(1694 562.6) scale(0.924 1)" font-size="9.9" fill="#000" stroke="#000" stroke-width="0.12" >18509.0</text>
<rect x="1689" y="592" width="2" height="1" fill="#000"/>
<text transform="translate(1694 595.6) scale(0.924 1)" font-size="9.9" fill="#000" stroke="#000" stroke-width="0.12" >17799.5</text>
<rect x="1690" y="57" width="41" height="11" fill="#ff0000" shape-rendering="crispEdges"/>
<text transform="translate(1694 66) scale(0.924 1)" font-size="9.9" fill="#fff" stroke="#fff" stroke-width="0.12" >29371.3</text>
<rect x="1690" y="78" width="41" height="11" fill="#ff0000" shape-rendering="crispEdges"/>
<text transform="translate(1694 87) scale(0.924 1)" font-size="9.9" fill="#fff" stroke="#fff" stroke-width="0.12" >28912.0</text>
<rect x="1690" y="92" width="41" height="11" fill="#000" shape-rendering="crispEdges"/>
<text transform="translate(1694 101) scale(0.924 1)" font-size="9.9" fill="#fff" stroke="#fff" stroke-width="0.12" >28638.0</text>
<rect x="1690" y="112" width="41" height="11" fill="#32cd32" shape-rendering="crispEdges"/>
<text transform="translate(1694 121) scale(0.924 1)" font-size="9.9" fill="#fff" stroke="#fff" stroke-width="0.12" >28168.3</text>
<rect x="1690" y="129" width="41" height="11" fill="#0000ff" shape-rendering="crispEdges"/>
<text transform="translate(1694 138) scale(0.924 1)" font-size="9.9" fill="#fff" stroke="#fff" stroke-width="0.12" >27796.5</text>
<rect x="1690" y="150" width="41" height="11" fill="#0000ff" shape-rendering="crispEdges"/>
<text transform="translate(1694 159) scale(0.924 1)" font-size="9.9" fill="#fff" stroke="#fff" stroke-width="0.12" >27337.2</text>
<text transform="translate(1692.5 607.5) scale(0.924 1)" font-size="9.9" fill="#000" stroke="#000" stroke-width="0.12" >1024.52</text>
<rect x="1689" y="644" width="1" height="1" fill="#000"/>
<text transform="translate(1692.5 647.5) scale(0.924 1)" font-size="9.9" fill="#000" stroke="#000" stroke-width="0.12" >0.00</text>
<text transform="translate(1692.5 749.5) scale(0.924 1)" font-size="9.9" fill="#000" stroke="#000" stroke-width="0.12" >-2433.25</text>
<rect x="1689" y="598" width="1" height="1" fill="#000"/>
<rect x="1689" y="752" width="1" height="1" fill="#000"/>
<text transform="translate(1692.5 765.5) scale(0.924 1)" font-size="9.9" fill="#000" stroke="#000" stroke-width="0.12" >100</text>
<text transform="translate(1691.2 794.5) scale(0.924 1)" font-size="9.9" fill="#000" stroke="#000" stroke-width="0.12" >80</text>
<text transform="translate(1691.2 845.5) scale(0.924 1)" font-size="9.9" fill="#000" stroke="#000" stroke-width="0.12" >50</text>
<text transform="translate(1691.2 906.5) scale(0.924 1)" font-size="9.9" fill="#000" stroke="#000" stroke-width="0.12" >15</text>
<text transform="translate(1692.5 925.5) scale(0.924 1)" font-size="9.9" fill="#000" stroke="#000" stroke-width="0.12" >0</text>
<rect x="1689" y="756" width="1" height="1" fill="#000"/>
<rect x="1689" y="928" width="1" height="1" fill="#000"/>
<g shape-rendering="crispEdges">
<rect x="0" y="48" width="219" height="65" fill="#fff" />
<rect x="0" y="48" width="50" height="25" fill="url(#gb)" />
<rect x="165" y="48" width="52" height="25" fill="url(#gb)" />
<rect x="0" y="72" width="107" height="40" fill="url(#gp)" />
<rect x="109" y="72" width="108" height="40" fill="url(#gp)" />
<rect x="2" y="72" width="44" height="1" fill="#a01010"/>
<rect x="2" y="73" width="44" height="1" fill="#f05858"/>
<rect x="169" y="72" width="44" height="1" fill="#a01010"/>
<rect x="169" y="73" width="44" height="1" fill="#f05858"/>
<rect x="49" y="48" width="1" height="24" fill="#c81010"/>
<rect x="0" y="48" width="50" height="1" fill="#d82020"/>
<rect x="165" y="48" width="1" height="24" fill="#c81010"/>
<rect x="165" y="48" width="52" height="1" fill="#d82020"/>
<rect x="216" y="48" width="1" height="64" fill="#c01010"/>
<rect x="52.5" y="48.5" width="110" height="21" fill="#fff" stroke="#a8a8b0"/>
<rect x="53.5" y="49.5" width="19" height="19" fill="url(#gs)" stroke="#b4b4bc"/>
<rect x="142.5" y="49.5" width="19" height="19" fill="url(#gs)" stroke="#b4b4bc"/>
</g>
<polygon points="59.5,57 65.5,57 62.5,60.5" fill="#5060c0"/>
<polygon points="148.5,60 154.5,60 151.5,56.5" fill="#5060c0"/>
<text x="138" y="63.2" font-size="12" fill="#000" text-anchor="end" >1.00</text>
<text x="23.2" y="64" font-size="12" fill="#fff" textLength="25.5" lengthAdjust="spacingAndGlyphs" text-anchor="middle" >SELL</text>
<text x="190" y="64" font-size="12" fill="#fff" textLength="23" lengthAdjust="spacingAndGlyphs" text-anchor="middle" >BUY</text>
<text x="14" y="102.6" font-size="12" fill="#fff" textLength="34.5" lengthAdjust="spacingAndGlyphs" font-weight="bold" >28636</text>
<text x="52" y="103" font-size="33" fill="#fff" >.</text>
<text x="60.3" y="103" font-size="34" fill="#fff" textLength="15.5" lengthAdjust="spacingAndGlyphs" >5</text>
<text x="124" y="102.6" font-size="12" fill="#fff" textLength="34.5" lengthAdjust="spacingAndGlyphs" font-weight="bold" >28646</text>
<text x="163.3" y="103" font-size="33" fill="#fff" >.</text>
<text x="171.6" y="103" font-size="34" fill="#fff" textLength="15.5" lengthAdjust="spacingAndGlyphs" >5</text>
<g id="toolbar">
<rect x="0" y="0" width="1735" height="24" fill="#f0f0f0" />
<rect x="0" y="23" width="1735" height="1" fill="#f4f4f4" />
<rect x="0" y="24" width="1735" height="1" fill="#ababab" />
<rect x="0" y="25" width="1735" height="1" fill="#747474" />
<rect x="0" y="26" width="1735" height="2" fill="#fff" />
<rect x="-3" y="5.6" width="14.4" height="12.8" rx="1.2" fill="#fff" stroke="#3c80c8" stroke-width="1.4"/>
<rect x="2.5" y="7" width="7.5" height="1" fill="#d0dcf8" />
<rect x="2.5" y="9" width="7.5" height="1" fill="#d0dcf8" />
<rect x="2.5" y="11" width="7.5" height="1" fill="#d0dcf8" />
<rect x="2.5" y="13" width="7.5" height="1" fill="#d0dcf8" />
<rect x="0.8" y="6.9" width="1.4" height="1.4" fill="#f02020" />
<rect x="0.8" y="12.9" width="1.4" height="1.4" fill="#f02020" />
<rect x="0.8" y="8.9" width="1.4" height="1.2" fill="#304030" />
<rect x="0" y="10.9" width="2" height="1.2" fill="#202020" />
<rect x="24.5" y="4.5" width="12" height="13" rx="1" fill="#fbfbfb" stroke="#b0a898"/>
<path d="M28 7 V14 M33 6 V13" stroke="#8090a8" stroke-width="1"/>
<circle cx="32.5" cy="13" r="5" fill="#c8dcf4" fill-opacity="0.8" stroke="#5080d0" stroke-width="1.2"/>
<path d="M36.5 17 L41 21" stroke="#c8982c" stroke-width="2.4" stroke-linecap="round"/>
<rect x="49" y="1" width="1" height="21" fill="#a0a0a0"/>
<path d="M59.5 4.5 H68 L71 7.5 V17.5 H59.5 Z" fill="#fff" stroke="#888" stroke-width="1"/>
<path d="M61.5 8 H66 M61.5 11 H68 M61.5 13.5 H66" stroke="#999" stroke-width="1"/>
<path d="M69.5 10.5 V21.5 M64 16 H75" stroke="#1a9a1a" stroke-width="4"/>
<path d="M69.5 11.5 V20.5 M65 16 H74" stroke="#40e040" stroke-width="2"/>
<text x="77.6" y="15.6" font-size="12" fill="#000" textLength="36.3" lengthAdjust="spacingAndGlyphs" stroke="#000" stroke-width="0.2">新订单</text>
<polygon points="126,14 133,5.5 142,11 137,19.5" fill="#e8b830" stroke="#a87810" stroke-width="1"/>
<polygon points="128,13.5 133.5,7 139.5,11" fill="#f8e080"/>
<path d="M126.5 15 L137 20 L142 12" stroke="#c89018" stroke-width="1" fill="none"/>
<polygon points="156,5 164,4 166,6 166,14 158,15 156,13" fill="#2888e0" stroke="#1868c0" stroke-width="0.8"/>
<rect x="159.5" y="7.5" width="5" height="2.5" fill="#e0f0ff"/>
<path d="M156 19.5 a3 3 0 0 1 1.5 -5.5 a4 4 0 0 1 7 -0.5 a3 3 0 0 1 4.5 3.5 a2 2 0 0 1 -1 2.5 Z" fill="#e8eef8" stroke="#8098c0" stroke-width="1"/>
<circle cx="190" cy="12" r="7.5" fill="#d8ecd8" stroke="#9cc09c" stroke-width="1"/>
<path d="M190 12 L190 19.5 A7.5 7.5 0 0 0 197.5 12 Z" fill="#7cc07c"/>
<circle cx="190" cy="12" r="5" fill="none" stroke="#6090e0" stroke-width="1"/>
<circle cx="190" cy="12" r="2.5" fill="none" stroke="#4070d0" stroke-width="1"/>
<circle cx="190" cy="11.5" r="1.3" fill="#2050c0"/>
<path d="M190 12 V19.5" stroke="#20a020" stroke-width="1.5"/>
<polygon points="210,12 224,12 218,19.5 215,19.5" fill="#f0d020" stroke="#c0a010" stroke-width="0.8"/>
<ellipse cx="217" cy="9.5" rx="8" ry="3" fill="#4090d8" stroke="#2870b8" stroke-width="0.8"/>
<ellipse cx="217" cy="7.5" rx="4.5" ry="3.2" fill="#58a8e8"/>
<circle cx="221.5" cy="15.5" r="4.3" fill="#e02010"/>
<rect x="219.8" y="13.8" width="3.4" height="3.4" fill="#fff"/>
<text x="230.3" y="15.6" font-size="12" fill="#000" textLength="46.8" lengthAdjust="spacingAndGlyphs" stroke="#000" stroke-width="0.2">自动交易</text>
<rect x="285" y="0" width="1" height="24" fill="#a0a0a0"/>
<rect x="289" y="2" width="3" height="1" fill="#a0a0a0" />
<rect x="289" y="4" width="3" height="1" fill="#a0a0a0" />
<rect x="289" y="6" width="3" height="1" fill="#a0a0a0" />
<rect x="289" y="8" width="3" height="1" fill="#a0a0a0" />
<rect x="289" y="10" width="3" height="1" fill="#a0a0a0" />
<rect x="289" y="12" width="3" height="1" fill="#a0a0a0" />
<rect x="289" y="14" width="3" height="1" fill="#a0a0a0" />
<rect x="289" y="16" width="3" height="1" fill="#a0a0a0" />
<rect x="289" y="18" width="3" height="1" fill="#a0a0a0" />
<rect x="289" y="20" width="3" height="1" fill="#a0a0a0" />
<g shape-rendering="crispEdges">
<rect x="303" y="7" width="1" height="13" fill="#505050" />
<rect x="301" y="17" width="13" height="1" fill="#505050" />
<rect x="302" y="8" width="3" height="1" fill="#505050" />
<rect x="303" y="6" width="1" height="1" fill="#505050" />
<rect x="313" y="16" width="1" height="3" fill="#505050" />
<rect x="314" y="17" width="1" height="1" fill="#505050" />
</g>
<rect x="309" y="7" width="1" height="9" fill="#108010" shape-rendering="crispEdges"/>
<rect x="310" y="8" width="2" height="1" fill="#108010" shape-rendering="crispEdges"/>
<rect x="307" y="14" width="2" height="1" fill="#108010" shape-rendering="crispEdges"/>
<rect x="323" y="0" width="25" height="22" fill="#f8f8f8" />
<rect x="323" y="0" width="25" height="1" fill="#a0a0a0" />
<rect x="323" y="0" width="1" height="22" fill="#a0a0a0" />
<g shape-rendering="crispEdges">
<rect x="331" y="7" width="1" height="13" fill="#505050" />
<rect x="329" y="17" width="13" height="1" fill="#505050" />
<rect x="330" y="8" width="3" height="1" fill="#505050" />
<rect x="331" y="6" width="1" height="1" fill="#505050" />
<rect x="341" y="16" width="1" height="3" fill="#505050" />
<rect x="342" y="17" width="1" height="1" fill="#505050" />
</g>
<path d="M337.5 4 V16" stroke="#108010" stroke-width="1"/>
<rect x="335.5" y="6.5" width="4" height="7" fill="#30e030" stroke="#108010" stroke-width="1"/>
<g shape-rendering="crispEdges">
<rect x="359" y="7" width="1" height="13" fill="#505050" />
<rect x="357" y="17" width="13" height="1" fill="#505050" />
<rect x="358" y="8" width="3" height="1" fill="#505050" />
<rect x="359" y="6" width="1" height="1" fill="#505050" />
<rect x="369" y="16" width="1" height="3" fill="#505050" />
<rect x="370" y="17" width="1" height="1" fill="#505050" />
</g>
<path d="M358.5 15 Q361 9 364 9 Q366 9.5 370 13.5" stroke="#108010" stroke-width="1.2" fill="none"/>
<rect x="380" y="1" width="1" height="21" fill="#a0a0a0"/>
<path d="M398 15 L403 19.5" stroke="#c8a020" stroke-width="2.6" stroke-linecap="round"/>
<circle cx="395" cy="10" r="5.3" fill="#d4e6f8" stroke="#3c80d0" stroke-width="1.3"/>
<path d="M392 10 H398" stroke="#3c78b8" stroke-width="1.6"/>
<path d="M395 7 V13" stroke="#3c78b8" stroke-width="1.6"/>
<path d="M426 15 L431 19.5" stroke="#c8a020" stroke-width="2.6" stroke-linecap="round"/>
<circle cx="423" cy="10" r="5.3" fill="#d4e6f8" stroke="#3c80d0" stroke-width="1.3"/>
<path d="M420 10 H426" stroke="#3c78b8" stroke-width="1.6"/>
<rect x="445" y="4" width="7.5" height="7.5" fill="#48a828" />
<rect x="453.5" y="4" width="7.5" height="7.5" fill="#2858d0" />
<rect x="445" y="12.5" width="7.5" height="7.5" fill="#2858d0" />
<rect x="453.5" y="12.5" width="7.5" height="7.5" fill="#48a828" />
<rect x="446" y="7" width="5.5" height="3" fill="#fff" fill-opacity="0.85"/>
<rect x="454.5" y="7" width="5.5" height="3" fill="#fff" fill-opacity="0.85"/>
<rect x="446" y="15.5" width="5.5" height="3" fill="#fff" fill-opacity="0.85"/>
<rect x="454.5" y="15.5" width="5.5" height="3" fill="#fff" fill-opacity="0.85"/>
<rect x="470" y="1" width="1" height="21" fill="#a0a0a0"/>
<rect x="475" y="0" width="25" height="22" fill="#f8f8f8" />
<rect x="475" y="0" width="25" height="1" fill="#a0a0a0" />
<rect x="475" y="0" width="1" height="22" fill="#a0a0a0" />
<g shape-rendering="crispEdges">
<rect x="483" y="7" width="1" height="13" fill="#505050" />
<rect x="481" y="17" width="13" height="1" fill="#505050" />
<rect x="482" y="8" width="3" height="1" fill="#505050" />
<rect x="483" y="6" width="1" height="1" fill="#505050" />
<rect x="493" y="16" width="1" height="3" fill="#505050" />
<rect x="494" y="17" width="1" height="1" fill="#505050" />
</g>
<polygon points="488.5,8 488.5,14.5 492,11.2" fill="#90e090" stroke="#108010" stroke-width="1"/>
<rect x="503" y="0" width="25" height="22" fill="#f8f8f8" />
<rect x="503" y="0" width="25" height="1" fill="#a0a0a0" />
<rect x="503" y="0" width="1" height="22" fill="#a0a0a0" />
<g shape-rendering="crispEdges">
<rect x="511" y="7" width="1" height="13" fill="#505050" />
<rect x="509" y="17" width="13" height="1" fill="#505050" />
<rect x="510" y="8" width="3" height="1" fill="#505050" />
<rect x="511" y="6" width="1" height="1" fill="#505050" />
<rect x="521" y="16" width="1" height="3" fill="#505050" />
<rect x="522" y="17" width="1" height="1" fill="#505050" />
</g>
<path d="M517.5 6 V16" stroke="#2080c0" stroke-width="1.2"/>
<path d="M523 11.5 H519 M520.5 9.5 L518.5 11.5 L520.5 13.5" stroke="#e04010" stroke-width="1.2" fill="none"/>
<rect x="532" y="1" width="1" height="21" fill="#a0a0a0"/>
<path d="M542.5 4.5 H550 L553 7.5 V17.5 H542.5 Z" fill="#fff" stroke="#888" stroke-width="1"/>
<path d="M545 8 V14 M545 8.5 H547" stroke="#666" stroke-width="1" fill="none"/>
<path d="M552.5 10.5 V21.5 M547 16 H558" stroke="#1a9a1a" stroke-width="4"/>
<path d="M552.5 11.5 V20.5 M548 16 H557" stroke="#40e040" stroke-width="2"/>
<polygon points="564,11 570,11 567,14" fill="#000"/>
<circle cx="588" cy="12" r="7.2" fill="#f4f8ff" stroke="#1c6cd0" stroke-width="2.2"/>
<path d="M588 8 V12.5 H591" stroke="#303030" stroke-width="1.1" fill="none"/>
<polygon points="603,11 609,11 606,14" fill="#000"/>
<rect x="619.5" y="5.5" width="15" height="13" rx="1" fill="#fff" stroke="#3c78c8" stroke-width="1.2"/>
<rect x="620" y="6" width="14" height="2" fill="#4c88d8" />
<rect x="620" y="12.5" width="14" height="1" fill="#3c78c8" />
<path d="M621.5 11 L624 10 L626 9 L629 10 L632 9" stroke="#c03010" stroke-width="1.2" fill="none"/>
<path d="M621.5 16 L624 15.5 L626 16 L629 14.5 L632 16" stroke="#109010" stroke-width="1.2" fill="none"/>
<polygon points="642,11 648,11 645,14" fill="#000"/>
<rect x="653" y="0" width="1" height="24" fill="#a0a0a0"/>
<rect x="657" y="2" width="3" height="1" fill="#a0a0a0" />
<rect x="657" y="4" width="3" height="1" fill="#a0a0a0" />
<rect x="657" y="6" width="3" height="1" fill="#a0a0a0" />
<rect x="657" y="8" width="3" height="1" fill="#a0a0a0" />
<rect x="657" y="10" width="3" height="1" fill="#a0a0a0" />
<rect x="657" y="12" width="3" height="1" fill="#a0a0a0" />
<rect x="657" y="14" width="3" height="1" fill="#a0a0a0" />
<rect x="657" y="16" width="3" height="1" fill="#a0a0a0" />
<rect x="657" y="18" width="3" height="1" fill="#a0a0a0" />
<rect x="657" y="20" width="3" height="1" fill="#a0a0a0" />
<rect x="663" y="0" width="25" height="22" fill="#f8f8f8" />
<rect x="663" y="0" width="25" height="1" fill="#a0a0a0" />
<rect x="663" y="0" width="1" height="22" fill="#a0a0a0" />
<polygon points="671,5 671,17 673.8,14.5 676,19 677.8,18.2 675.6,13.8 679,13.4" fill="#484848"/>
<path d="M696 12.5 H702 M705 12.5 H711 M703.5 5 V11 M703.5 14 V20" stroke="#505050" stroke-width="1"/>
<rect x="720" y="1" width="1" height="21" fill="#a0a0a0"/>
<rect x="737" y="6" width="1" height="13" fill="#505050" />
<rect x="760" y="12" width="12" height="1" fill="#505050" />
<path d="M788 19 L800 6.5" stroke="#505050" stroke-width="1.1"/>
<path d="M814 14 L826 6 M815 18 L828 10 M818 9 V18 M822 7 V16 M825.5 4 V13" stroke="#505050" stroke-width="1" fill="none"/>
<text x="825" y="21" font-size="6.5" fill="#303030" font-weight="bold" >E</text>
<line x1="843" y1="5.5" x2="856" y2="5.5" stroke="#505050" stroke-width="1" stroke-dasharray="1,1"/>
<line x1="843" y1="8.5" x2="856" y2="8.5" stroke="#505050" stroke-width="1" stroke-dasharray="1,1"/>
<line x1="843" y1="12.5" x2="856" y2="12.5" stroke="#505050" stroke-width="1" stroke-dasharray="1,1"/>
<line x1="843" y1="16.5" x2="856" y2="16.5" stroke="#505050" stroke-width="1" stroke-dasharray="1,1"/>
<rect x="852" y="15" width="6" height="7" fill="#f0f0f0" />
<text x="852.5" y="21" font-size="6.5" fill="#303030" font-weight="bold" >F</text>
<text x="873.5" y="17" font-size="12" fill="#505050" textLength="8.5" lengthAdjust="spacingAndGlyphs" >A</text>
<rect x="899.5" y="6.5" width="12" height="12" fill="none" stroke="#505050" stroke-width="1" stroke-dasharray="1,1"/>
<text x="901.5" y="17" font-size="11" fill="#505050" textLength="8" lengthAdjust="spacingAndGlyphs" >T</text>
<polygon points="930.5,5.5 934,9 930.5,11 927,9" fill="#505050"/>
<polygon points="937.5,14 941,16 937.5,19.5 934,16" fill="#505050"/>
<path d="M929.5 13 L931.5 15.5 L936.5 9.5" stroke="#505050" stroke-width="1.3" fill="none"/>
<polygon points="948,11 954,11 951,14" fill="#000"/>
<rect x="959" y="0" width="1" height="24" fill="#a0a0a0"/>
<rect x="963" y="2" width="3" height="1" fill="#a0a0a0" />
<rect x="963" y="4" width="3" height="1" fill="#a0a0a0" />
<rect x="963" y="6" width="3" height="1" fill="#a0a0a0" />
<rect x="963" y="8" width="3" height="1" fill="#a0a0a0" />
<rect x="963" y="10" width="3" height="1" fill="#a0a0a0" />
<rect x="963" y="12" width="3" height="1" fill="#a0a0a0" />
<rect x="963" y="14" width="3" height="1" fill="#a0a0a0" />
<rect x="963" y="16" width="3" height="1" fill="#a0a0a0" />
<rect x="963" y="18" width="3" height="1" fill="#a0a0a0" />
<rect x="963" y="20" width="3" height="1" fill="#a0a0a0" />
<rect x="1137" y="0" width="25" height="22" fill="#f8f8f8" />
<rect x="1137" y="0" width="25" height="1" fill="#a0a0a0" />
<rect x="1137" y="0" width="1" height="22" fill="#a0a0a0" />
<text x="974.8" y="16" font-size="10.6" fill="#303030" textLength="12.2" lengthAdjust="spacingAndGlyphs" >M1</text>
<text x="1002.9" y="16" font-size="10.6" fill="#303030" textLength="12.1" lengthAdjust="spacingAndGlyphs" >M5</text>
<text x="1028.8" y="16" font-size="10.6" fill="#303030" textLength="17.5" lengthAdjust="spacingAndGlyphs" >M15</text>
<text x="1056.7" y="16" font-size="10.6" fill="#303030" textLength="17.5" lengthAdjust="spacingAndGlyphs" >M30</text>
<text x="1087.6" y="16" font-size="10.6" fill="#303030" textLength="11.7" lengthAdjust="spacingAndGlyphs" >H1</text>
<text x="1114.7" y="16" font-size="10.6" fill="#303030" textLength="12.3" lengthAdjust="spacingAndGlyphs" >H4</text>
<text x="1143.8" y="16" font-size="10.6" fill="#303030" textLength="11.5" lengthAdjust="spacingAndGlyphs" >D1</text>
<text x="1171" y="16" font-size="10.6" fill="#303030" textLength="14" lengthAdjust="spacingAndGlyphs" >W1</text>
<text x="1197.8" y="16" font-size="10.6" fill="#303030" textLength="14.3" lengthAdjust="spacingAndGlyphs" >MN</text>
<rect x="1220" y="0" width="1" height="24" fill="#a0a0a0"/>
<circle cx="1690" cy="9" r="3.6" fill="#f0f4ff" stroke="#3060d0" stroke-width="1.6"/>
<path d="M1687.5 11.5 L1683.5 16" stroke="#3060d0" stroke-width="2" stroke-linecap="round"/>
<ellipse cx="1723.5" cy="9" rx="6" ry="4.6" fill="#ececec" stroke="#8a8a8a" stroke-width="1.1"/>
<path d="M1725.5 13 L1727.5 16 L1722.5 13.4 Z" fill="#ececec" stroke="#8a8a8a" stroke-width="0.8"/>
<ellipse cx="1714.5" cy="12.5" rx="5" ry="4" fill="#f6f6f6" stroke="#8a8a8a" stroke-width="1.1"/>
<path d="M1712 15.8 L1711.3 19 L1715 16.4 Z" fill="#f6f6f6" stroke="#8a8a8a" stroke-width="0.8"/>
</g>
</svg>
</body>
</html>
